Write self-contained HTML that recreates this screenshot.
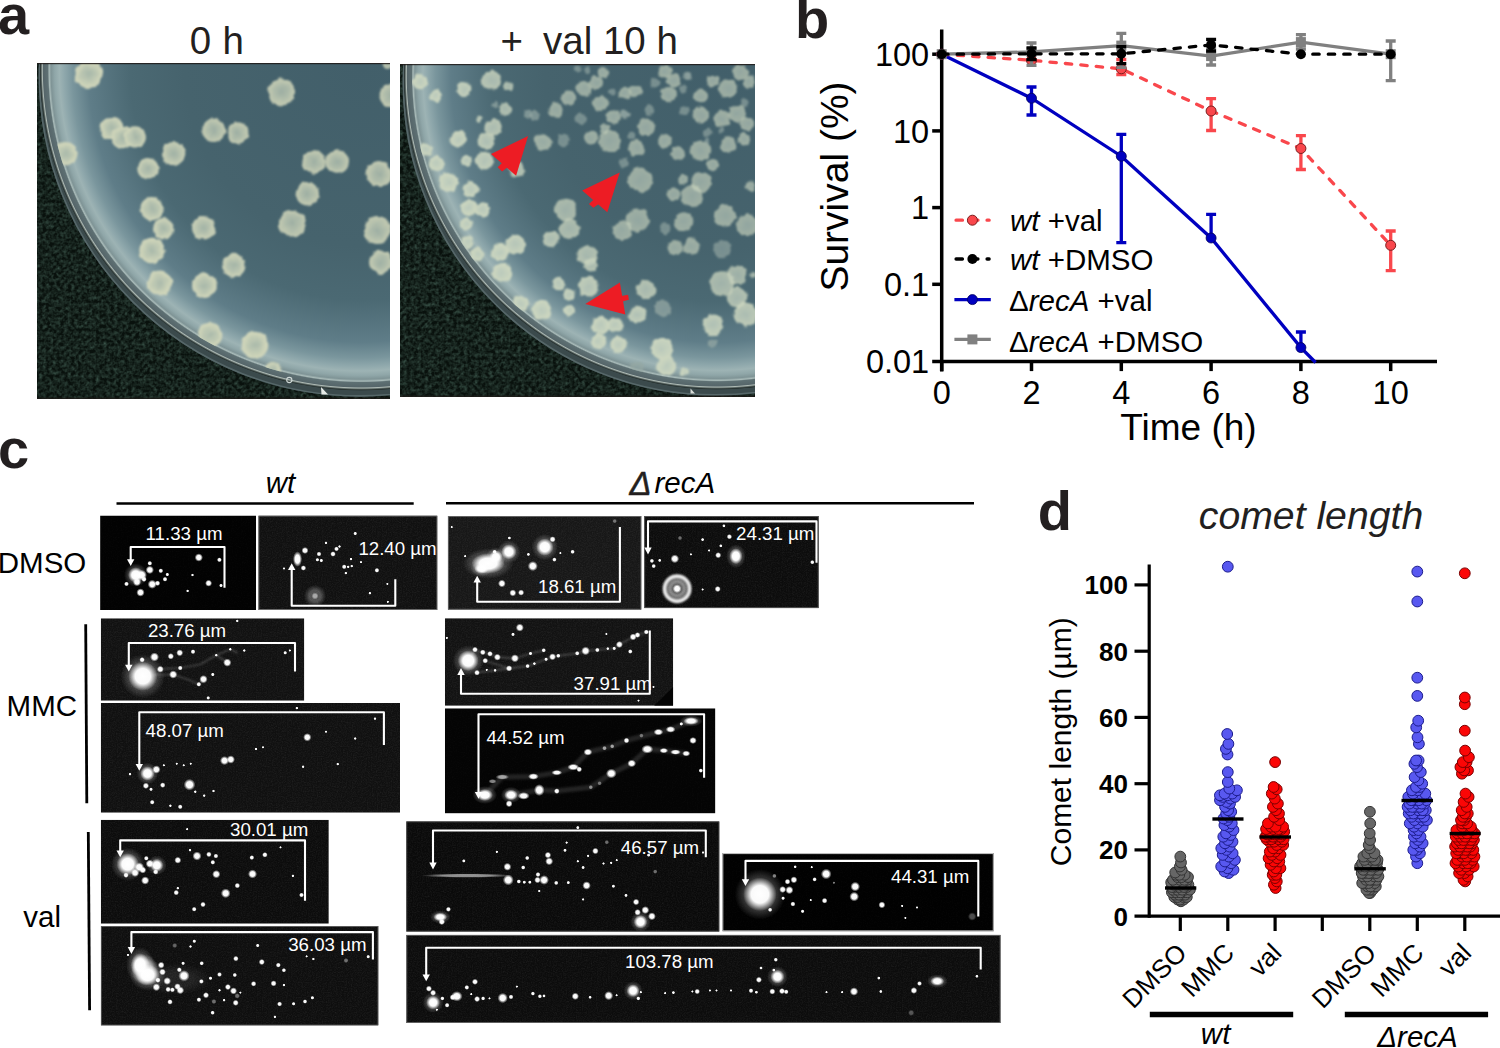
<!DOCTYPE html>
<html lang="en"><head><meta charset="utf-8"><title>Figure</title>
<style>html,body{margin:0;padding:0;background:#fff;overflow:hidden}svg{display:block}</style></head><body>
<svg width="1500" height="1048" viewBox="0 0 1500 1048">
<rect width="1500" height="1048" fill="#fff"/>
<!-- panel_a -->
<defs>
<filter id="colblur1" x="-2%" y="-2%" width="104%" height="104%"><feTurbulence type="fractalNoise" baseFrequency="0.13" numOctaves="2" seed="7" result="t"/><feDisplacementMap in="SourceGraphic" in2="t" scale="4.5" xChannelSelector="R" yChannelSelector="G" result="d"/><feGaussianBlur in="d" stdDeviation="0.8"/></filter>
<filter id="colblur2" x="-2%" y="-2%" width="104%" height="104%"><feTurbulence type="fractalNoise" baseFrequency="0.15" numOctaves="2" seed="5" result="t"/><feDisplacementMap in="SourceGraphic" in2="t" scale="5" xChannelSelector="R" yChannelSelector="G" result="d"/><feGaussianBlur in="d" stdDeviation="1.15"/></filter>
<filter id="grainA" x="0" y="0" width="100%" height="100%"><feTurbulence type="fractalNoise" baseFrequency="0.28" numOctaves="2" seed="11" result="n"/><feColorMatrix in="n" type="matrix" values="0 0 0 0 0.08  0 0 0 0 0.17  0 0 0 0 0.13  0.7 0.7 0 0 -0.52"/></filter>
<radialGradient id="colG"><stop offset="0" stop-color="#a9b9aa"/><stop offset="0.5" stop-color="#bcc7b2"/><stop offset="0.8" stop-color="#ccd3b8"/><stop offset="1" stop-color="#d2d6bb"/></radialGradient>
<radialGradient id="colG2"><stop offset="0" stop-color="#bac9bb"/><stop offset="0.6" stop-color="#c6d2be"/><stop offset="1" stop-color="#cfd8c0"/></radialGradient>
<radialGradient id="colD"><stop offset="0" stop-color="#8fa4a2"/><stop offset="1" stop-color="#98aaa4"/></radialGradient>
<radialGradient id="plateG1" gradientUnits="userSpaceOnUse" cx="361.1" cy="69.2" r="321"><stop offset="0" stop-color="#425f6a"/><stop offset="0.55" stop-color="#46636d"/><stop offset="0.72" stop-color="#4b6973"/><stop offset="0.85" stop-color="#5f7d88"/><stop offset="0.9" stop-color="#7a969d"/><stop offset="0.925" stop-color="#8fa8ac"/><stop offset="0.94" stop-color="#9db3b4"/><stop offset="0.955" stop-color="#8fa6a8"/><stop offset="0.966" stop-color="#7f9496"/><stop offset="0.972" stop-color="#a9bbb9"/><stop offset="0.976" stop-color="#5e7073"/><stop offset="0.99" stop-color="#56666a"/><stop offset="0.993" stop-color="#aebab4"/><stop offset="0.997" stop-color="#4a5654"/><stop offset="1" stop-color="#1b2421"/></radialGradient>
<radialGradient id="plateG2" gradientUnits="userSpaceOnUse" cx="717.1" cy="76.2" r="313"><stop offset="0" stop-color="#425f6a"/><stop offset="0.55" stop-color="#46636d"/><stop offset="0.72" stop-color="#4b6973"/><stop offset="0.85" stop-color="#5f7d88"/><stop offset="0.9" stop-color="#7a969d"/><stop offset="0.925" stop-color="#8fa8ac"/><stop offset="0.94" stop-color="#9db3b4"/><stop offset="0.955" stop-color="#8fa6a8"/><stop offset="0.966" stop-color="#7f9496"/><stop offset="0.972" stop-color="#a9bbb9"/><stop offset="0.976" stop-color="#5e7073"/><stop offset="0.99" stop-color="#56666a"/><stop offset="0.993" stop-color="#aebab4"/><stop offset="0.997" stop-color="#4a5654"/><stop offset="1" stop-color="#1b2421"/></radialGradient>
</defs>
<clipPath id="clipA1"><rect x="37" y="63" width="353" height="336"/></clipPath>
<g clip-path="url(#clipA1)">
<rect x="37" y="63" width="353" height="336" fill="#09110d"/>
<rect x="37" y="63" width="353" height="336" filter="url(#grainA)"/>
<circle cx="359.6" cy="75.7" r="321" fill="#3b4a4c"/>
<circle cx="359.6" cy="75.7" r="320.2" fill="none" stroke="#566769" stroke-width="1.6"/>
<circle cx="361.1" cy="69.2" r="321" fill="url(#plateG1)"/>
<clipPath id="agar1"><circle cx="361.1" cy="69.2" r="313.0"/></clipPath>
<g clip-path="url(#agar1)"><g filter="url(#colblur1)">
<circle cx="88.5" cy="74.1" r="14" fill="url(#colG)" fill-opacity="0.99"/>
<circle cx="281.6" cy="91.9" r="13.4" fill="url(#colG)" fill-opacity="0.88"/>
<circle cx="391.4" cy="95.2" r="12" fill="url(#colG)" fill-opacity="0.88"/>
<circle cx="111.9" cy="128.6" r="11.7" fill="url(#colG)" fill-opacity="0.97"/>
<circle cx="122.9" cy="137.6" r="11.7" fill="url(#colG)" fill-opacity="0.96"/>
<circle cx="135.3" cy="136.9" r="10.7" fill="url(#colG)" fill-opacity="0.94"/>
<circle cx="213.8" cy="130.3" r="11.7" fill="url(#colG)" fill-opacity="0.88"/>
<circle cx="237.8" cy="132.9" r="10.7" fill="url(#colG)" fill-opacity="0.88"/>
<circle cx="65.8" cy="153.6" r="11.7" fill="url(#colG)" fill-opacity="1.00"/>
<circle cx="173.7" cy="153.6" r="11.7" fill="url(#colG)" fill-opacity="0.91"/>
<circle cx="148" cy="168.7" r="10.7" fill="url(#colG)" fill-opacity="0.94"/>
<circle cx="314" cy="162" r="11.7" fill="url(#colG)" fill-opacity="0.88"/>
<circle cx="337.3" cy="162" r="11.7" fill="url(#colG)" fill-opacity="0.88"/>
<circle cx="379.1" cy="173.7" r="12.7" fill="url(#colG)" fill-opacity="0.88"/>
<circle cx="307.3" cy="193.7" r="11.7" fill="url(#colG)" fill-opacity="0.88"/>
<circle cx="152" cy="208.8" r="11.7" fill="url(#colG)" fill-opacity="0.96"/>
<circle cx="163.7" cy="228.8" r="10.7" fill="url(#colG)" fill-opacity="0.96"/>
<circle cx="203.7" cy="227.8" r="11.7" fill="url(#colG)" fill-opacity="0.93"/>
<circle cx="292.3" cy="223.1" r="13.4" fill="url(#colG)" fill-opacity="0.88"/>
<circle cx="377.4" cy="230.5" r="13.4" fill="url(#colG)" fill-opacity="0.88"/>
<circle cx="152" cy="250.5" r="12.7" fill="url(#colG)" fill-opacity="0.99"/>
<circle cx="233.8" cy="265.5" r="11.7" fill="url(#colG)" fill-opacity="0.94"/>
<circle cx="380.8" cy="262.2" r="11.7" fill="url(#colG)" fill-opacity="0.89"/>
<circle cx="159.7" cy="282.9" r="12.4" fill="url(#colG)" fill-opacity="1.00"/>
<circle cx="204.4" cy="285.6" r="12.4" fill="url(#colG)" fill-opacity="0.98"/>
<circle cx="210" cy="335" r="12.3" fill="url(#colG)" fill-opacity="1.00"/>
<circle cx="255" cy="345" r="13.3" fill="url(#colG)" fill-opacity="1.00"/>
<circle cx="272.7" cy="371" r="9" fill="url(#colG)" fill-opacity="1.00"/>
<circle cx="388" cy="61" r="7" fill="url(#colG)" fill-opacity="0.88"/>
</g></g>
<rect x="37" y="63" width="353" height="1.2" fill="#1e1a17" opacity="0.85"/>
<rect x="37" y="397.5" width="353" height="1.5" fill="#1e1a17" opacity="0.7"/>
</g>
<clipPath id="clipA2"><rect x="400" y="64" width="355" height="333"/></clipPath>
<g clip-path="url(#clipA2)">
<rect x="400" y="64" width="355" height="333" fill="#09110d"/>
<rect x="400" y="64" width="355" height="333" filter="url(#grainA)"/>
<circle cx="715.6" cy="82.7" r="313" fill="#3b4a4c"/>
<circle cx="715.6" cy="82.7" r="312.2" fill="none" stroke="#566769" stroke-width="1.6"/>
<circle cx="717.1" cy="76.2" r="313" fill="url(#plateG2)"/>
<clipPath id="agar2"><circle cx="717.1" cy="76.2" r="305.2"/></clipPath>
<g clip-path="url(#agar2)"><g filter="url(#colblur2)">
<circle cx="420.2" cy="81.6" r="7.6" fill="url(#colG2)" fill-opacity="1.00"/>
<circle cx="435.7" cy="95.7" r="6.2" fill="url(#colG2)" fill-opacity="1.00"/>
<circle cx="463.9" cy="89.5" r="7.6" fill="url(#colG2)" fill-opacity="0.92"/>
<circle cx="491.4" cy="80.2" r="9.6" fill="url(#colG2)" fill-opacity="0.83"/>
<circle cx="508.5" cy="86.1" r="4.8" fill="url(#colG2)" fill-opacity="0.78"/>
<circle cx="505.1" cy="109.1" r="6.2" fill="url(#colG2)" fill-opacity="0.79"/>
<circle cx="493.1" cy="127.3" r="8.6" fill="url(#colG2)" fill-opacity="0.84"/>
<circle cx="486.2" cy="141" r="8.6" fill="url(#colG2)" fill-opacity="0.87"/>
<circle cx="458.7" cy="139.3" r="8.2" fill="url(#colG2)" fill-opacity="0.96"/>
<circle cx="484.5" cy="160.6" r="8.9" fill="url(#colG2)" fill-opacity="0.90"/>
<circle cx="466.3" cy="160.6" r="5.5" fill="url(#colG2)" fill-opacity="0.95"/>
<circle cx="426.1" cy="149.6" r="6.2" fill="url(#colG2)" fill-opacity="1.00"/>
<circle cx="436.4" cy="163.4" r="7.6" fill="url(#colG2)" fill-opacity="1.00"/>
<circle cx="448.4" cy="182.3" r="9.6" fill="url(#colG2)" fill-opacity="1.00"/>
<circle cx="470.7" cy="189.2" r="8.2" fill="url(#colG2)" fill-opacity="0.97"/>
<circle cx="469" cy="208" r="8.2" fill="url(#colG2)" fill-opacity="1.00"/>
<circle cx="482.8" cy="209.8" r="7.6" fill="url(#colG2)" fill-opacity="0.97"/>
<circle cx="466.3" cy="223.5" r="6.2" fill="url(#colG2)" fill-opacity="1.00"/>
<circle cx="467.3" cy="242.4" r="6.2" fill="url(#colG2)" fill-opacity="1.00"/>
<circle cx="477.6" cy="254.4" r="6.9" fill="url(#colG2)" fill-opacity="1.00"/>
<circle cx="499.9" cy="252.7" r="8.9" fill="url(#colG2)" fill-opacity="1.00"/>
<circle cx="515.4" cy="244.1" r="10.3" fill="url(#colG2)" fill-opacity="0.94"/>
<circle cx="501.7" cy="272.6" r="9.6" fill="url(#colG2)" fill-opacity="1.00"/>
<circle cx="520.6" cy="303.2" r="8.2" fill="url(#colG2)" fill-opacity="1.00"/>
<circle cx="541.9" cy="310.4" r="9.6" fill="url(#colG2)" fill-opacity="1.00"/>
<circle cx="542.9" cy="142.1" r="8.9" fill="url(#colG2)" fill-opacity="0.69"/>
<circle cx="563.5" cy="140" r="6.2" fill="url(#colD)" fill-opacity="0.66"/>
<circle cx="534.3" cy="115.3" r="5.5" fill="url(#colD)" fill-opacity="0.70"/>
<circle cx="556" cy="110.1" r="7.6" fill="url(#colG2)" fill-opacity="0.66"/>
<circle cx="568.7" cy="98.1" r="7.6" fill="url(#colG2)" fill-opacity="0.66"/>
<circle cx="584.1" cy="88.5" r="7.6" fill="url(#colG2)" fill-opacity="0.66"/>
<circle cx="596.2" cy="82.6" r="6.9" fill="url(#colG2)" fill-opacity="0.66"/>
<circle cx="603" cy="72.3" r="5.2" fill="url(#colG2)" fill-opacity="0.66"/>
<circle cx="600.3" cy="103.3" r="7.6" fill="url(#colG2)" fill-opacity="0.66"/>
<circle cx="580.7" cy="118.7" r="6.2" fill="url(#colD)" fill-opacity="0.66"/>
<circle cx="591" cy="137.6" r="6.9" fill="url(#colG2)" fill-opacity="0.66"/>
<circle cx="609.9" cy="141" r="11" fill="url(#colG2)" fill-opacity="0.66"/>
<circle cx="613.3" cy="117" r="7.6" fill="url(#colG2)" fill-opacity="0.66"/>
<circle cx="604.7" cy="129" r="4.8" fill="url(#colG2)" fill-opacity="0.66"/>
<circle cx="624.7" cy="114.6" r="4.1" fill="url(#colD)" fill-opacity="0.66"/>
<circle cx="635.7" cy="91.2" r="6.2" fill="url(#colG2)" fill-opacity="0.66"/>
<circle cx="624.7" cy="92.9" r="6.2" fill="url(#colG2)" fill-opacity="0.66"/>
<circle cx="646" cy="127.3" r="8.9" fill="url(#colG2)" fill-opacity="0.66"/>
<circle cx="636.7" cy="147.9" r="8.2" fill="url(#colG2)" fill-opacity="0.66"/>
<circle cx="623.6" cy="162.7" r="4.8" fill="url(#colD)" fill-opacity="0.66"/>
<circle cx="640.1" cy="179.9" r="12.4" fill="url(#colG2)" fill-opacity="0.66"/>
<circle cx="664.9" cy="141" r="6.9" fill="url(#colG2)" fill-opacity="0.66"/>
<circle cx="677.9" cy="153.1" r="6.9" fill="url(#colG2)" fill-opacity="0.66"/>
<circle cx="700.9" cy="150.7" r="10.3" fill="url(#colG2)" fill-opacity="0.66"/>
<circle cx="713" cy="165.1" r="6.2" fill="url(#colG2)" fill-opacity="0.66"/>
<circle cx="700.9" cy="182.3" r="10.3" fill="url(#colG2)" fill-opacity="0.66"/>
<circle cx="692.4" cy="196" r="11" fill="url(#colG2)" fill-opacity="0.66"/>
<circle cx="673.5" cy="194.3" r="6.9" fill="url(#colG2)" fill-opacity="0.66"/>
<circle cx="683.1" cy="179.9" r="4.8" fill="url(#colG2)" fill-opacity="0.66"/>
<circle cx="637.4" cy="220.1" r="11.7" fill="url(#colG2)" fill-opacity="0.66"/>
<circle cx="621.9" cy="230.4" r="9.6" fill="url(#colG2)" fill-opacity="0.67"/>
<circle cx="565.9" cy="209.8" r="11" fill="url(#colG2)" fill-opacity="0.74"/>
<circle cx="569.4" cy="228.7" r="10.3" fill="url(#colG2)" fill-opacity="0.77"/>
<circle cx="550.8" cy="239" r="8.2" fill="url(#colG2)" fill-opacity="0.84"/>
<circle cx="587.6" cy="255.5" r="10.3" fill="url(#colG2)" fill-opacity="0.80"/>
<circle cx="591" cy="264.7" r="6.9" fill="url(#colG2)" fill-opacity="0.82"/>
<circle cx="588.6" cy="287.1" r="10.3" fill="url(#colG2)" fill-opacity="0.89"/>
<circle cx="559" cy="283.6" r="6.9" fill="url(#colG2)" fill-opacity="0.93"/>
<circle cx="569.4" cy="294.6" r="6.2" fill="url(#colG2)" fill-opacity="0.94"/>
<circle cx="569.4" cy="310.4" r="5.5" fill="url(#colG2)" fill-opacity="0.98"/>
<circle cx="646" cy="289.5" r="9.6" fill="url(#colG2)" fill-opacity="0.81"/>
<circle cx="637.4" cy="314.6" r="8.9" fill="url(#colG2)" fill-opacity="0.90"/>
<circle cx="663.1" cy="308.7" r="8.2" fill="url(#colD)" fill-opacity="0.75"/>
<circle cx="683.8" cy="221.8" r="9.6" fill="url(#colG2)" fill-opacity="0.66"/>
<circle cx="664.9" cy="228.7" r="5.5" fill="url(#colD)" fill-opacity="0.66"/>
<circle cx="675.2" cy="247.6" r="7.6" fill="url(#colG2)" fill-opacity="0.66"/>
<circle cx="691.3" cy="246.5" r="8.2" fill="url(#colG2)" fill-opacity="0.66"/>
<circle cx="725" cy="215.6" r="11" fill="url(#colG2)" fill-opacity="0.66"/>
<circle cx="747.3" cy="225.2" r="11" fill="url(#colG2)" fill-opacity="0.66"/>
<circle cx="722.2" cy="249.3" r="8.9" fill="url(#colD)" fill-opacity="0.66"/>
<circle cx="713" cy="324.9" r="10.3" fill="url(#colG2)" fill-opacity="0.89"/>
<circle cx="713" cy="343.8" r="4.1" fill="url(#colD)" fill-opacity="0.75"/>
<circle cx="721.6" cy="283.6" r="12.4" fill="url(#colG2)" fill-opacity="0.76"/>
<circle cx="737" cy="275" r="9.6" fill="url(#colG2)" fill-opacity="0.73"/>
<circle cx="737" cy="297.4" r="10.3" fill="url(#colG2)" fill-opacity="0.80"/>
<circle cx="745.6" cy="314.6" r="12" fill="url(#colG2)" fill-opacity="0.86"/>
<circle cx="600.3" cy="324.9" r="8.9" fill="url(#colG2)" fill-opacity="0.98"/>
<circle cx="615" cy="324.9" r="7.6" fill="url(#colG2)" fill-opacity="0.96"/>
<circle cx="598.6" cy="341.4" r="7.6" fill="url(#colG2)" fill-opacity="1.00"/>
<circle cx="618.5" cy="344.8" r="8.2" fill="url(#colG2)" fill-opacity="1.00"/>
<circle cx="661.4" cy="348.2" r="11" fill="url(#colG2)" fill-opacity="0.99"/>
<circle cx="666.6" cy="366.1" r="9.6" fill="url(#colG2)" fill-opacity="1.00"/>
<circle cx="684.8" cy="371.3" r="4.1" fill="url(#colG2)" fill-opacity="1.00"/>
<circle cx="637.4" cy="367.8" r="6.9" fill="url(#colD)" fill-opacity="0.75"/>
<circle cx="664.9" cy="71.3" r="6.9" fill="url(#colG2)" fill-opacity="0.66"/>
<circle cx="673.5" cy="80.9" r="6.9" fill="url(#colG2)" fill-opacity="0.66"/>
<circle cx="668.3" cy="94.7" r="7.6" fill="url(#colG2)" fill-opacity="0.66"/>
<circle cx="654.6" cy="82.6" r="4.8" fill="url(#colD)" fill-opacity="0.66"/>
<circle cx="649.4" cy="110.1" r="4.8" fill="url(#colD)" fill-opacity="0.66"/>
<circle cx="683.8" cy="111.2" r="4.8" fill="url(#colD)" fill-opacity="0.66"/>
<circle cx="700.9" cy="96.4" r="6.9" fill="url(#colG2)" fill-opacity="0.66"/>
<circle cx="700.9" cy="114.6" r="8.2" fill="url(#colG2)" fill-opacity="0.66"/>
<circle cx="713" cy="80.9" r="6.2" fill="url(#colG2)" fill-opacity="0.66"/>
<circle cx="728.4" cy="88.5" r="9.6" fill="url(#colG2)" fill-opacity="0.66"/>
<circle cx="740.5" cy="72.3" r="7.6" fill="url(#colG2)" fill-opacity="0.66"/>
<circle cx="749" cy="82.6" r="6.2" fill="url(#colG2)" fill-opacity="0.66"/>
<circle cx="721.6" cy="118.7" r="8.2" fill="url(#colG2)" fill-opacity="0.66"/>
<circle cx="737" cy="113.6" r="8.6" fill="url(#colG2)" fill-opacity="0.66"/>
<circle cx="747.3" cy="123.9" r="6.9" fill="url(#colG2)" fill-opacity="0.66"/>
<circle cx="728.4" cy="144.5" r="8.2" fill="url(#colG2)" fill-opacity="0.66"/>
<circle cx="743.9" cy="139.3" r="6.2" fill="url(#colG2)" fill-opacity="0.66"/>
<circle cx="707.8" cy="132.5" r="4.8" fill="url(#colD)" fill-opacity="0.66"/>
<circle cx="750.8" cy="185.7" r="5.2" fill="url(#colG2)" fill-opacity="0.66"/>
<circle cx="687.2" cy="75.8" r="4.1" fill="url(#colD)" fill-opacity="0.66"/>
<circle cx="587.6" cy="70.6" r="3.4" fill="url(#colD)" fill-opacity="0.66"/>
<circle cx="577.3" cy="68.9" r="3.4" fill="url(#colD)" fill-opacity="0.66"/>
<circle cx="752.5" cy="275" r="2.7" fill="url(#colG2)" fill-opacity="0.74"/>
<circle cx="516.6" cy="169.5" r="8" fill="url(#colG2)" fill-opacity="0.81"/>
<circle cx="479.4" cy="118.7" r="3" fill="url(#colG2)" fill-opacity="0.88"/>
<circle cx="528" cy="113.7" r="4" fill="url(#colD)" fill-opacity="0.72"/>
<circle cx="495" cy="105" r="3" fill="url(#colD)" fill-opacity="0.75"/>
<circle cx="612.2" cy="92.3" r="3.2" fill="url(#colD)" fill-opacity="0.66"/>
<circle cx="625.1" cy="115" r="4.1" fill="url(#colD)" fill-opacity="0.66"/>
<circle cx="631.6" cy="135.3" r="3.6" fill="url(#colD)" fill-opacity="0.66"/>
<circle cx="720.8" cy="130.4" r="3.2" fill="url(#colD)" fill-opacity="0.66"/>
<circle cx="707.1" cy="141" r="2.9" fill="url(#colD)" fill-opacity="0.66"/>
<circle cx="751.7" cy="77.7" r="2.4" fill="url(#colD)" fill-opacity="0.66"/>
<circle cx="744.4" cy="102.9" r="4.2" fill="url(#colD)" fill-opacity="0.66"/>
<circle cx="683.5" cy="89.1" r="3.9" fill="url(#colD)" fill-opacity="0.66"/>
<circle cx="688.4" cy="76.1" r="3.6" fill="url(#colD)" fill-opacity="0.66"/>
</g></g>
<rect x="400" y="64" width="355" height="1.2" fill="#1e1a17" opacity="0.85"/>
<rect x="400" y="395.5" width="355" height="1.5" fill="#1e1a17" opacity="0.7"/>
</g>
<circle cx="289.3" cy="380" r="2.6" fill="none" stroke="#cfd8d6" stroke-width="1.1"/><polygon points="321,387 328,394.5 321.5,394.5" fill="#e8ece8"/><polygon points="690.5,388.5 695,393.5 690.5,393.5" fill="#d8dcd8"/>
<polygon points="528.1,136 491,154.1 516.1,175.7" fill="#ed1c24"/><polygon points="505.1,160.1 510.1,165.1 502.1,171.5 497.7,167.3" fill="#ed1c24"/>
<polygon points="619.7,172.5 582.2,190.6 607.3,212.2" fill="#ed1c24"/><polygon points="596.3,197.2 601.3,202.2 593.3,207.8 588.9,204" fill="#ed1c24"/>
<polygon points="585.3,304 619.9,282.4 625.3,314.4" fill="#ed1c24"/><polygon points="621.3,296 628.1,294.8 628.9,299.8 622.3,301.4" fill="#ed1c24"/>
<text x="-2" y="34.3" font-family='"Liberation Sans", sans-serif' font-weight="bold" font-size="56" fill="#231f20">a</text>
<text x="189.7" y="53.6" font-family='"Liberation Sans", sans-serif' font-size="38.5" fill="#231f20">0</text>
<text x="222.5" y="53.6" font-family='"Liberation Sans", sans-serif' font-size="38.5" fill="#231f20">h</text>
<text x="500.6" y="53.6" font-family='"Liberation Sans", sans-serif' font-size="38.5" fill="#231f20">+</text>
<text x="543" y="53.6" font-family='"Liberation Sans", sans-serif' font-size="38.5" fill="#231f20">val 10 h</text>
<!-- panel_b -->
<g stroke="#000" stroke-width="3.5" fill="none">
<line x1="941.7" y1="29.5" x2="941.7" y2="371.40000000000003"/>
<line x1="932.2" y1="361.6" x2="1437" y2="361.6"/>
<line x1="932.2" y1="54.2" x2="941.7" y2="54.2"/>
<line x1="932.2" y1="130.9" x2="941.7" y2="130.9"/>
<line x1="932.2" y1="207.6" x2="941.7" y2="207.6"/>
<line x1="932.2" y1="284.3" x2="941.7" y2="284.3"/>
<line x1="941.7" y1="361.6" x2="941.7" y2="371.1"/>
<line x1="1031.5" y1="361.6" x2="1031.5" y2="371.1"/>
<line x1="1121.3" y1="361.6" x2="1121.3" y2="371.1"/>
<line x1="1211.1" y1="361.6" x2="1211.1" y2="371.1"/>
<line x1="1300.9" y1="361.6" x2="1300.9" y2="371.1"/>
<line x1="1390.7" y1="361.6" x2="1390.7" y2="371.1"/>
</g>
<g font-family='"Liberation Sans", sans-serif' font-size="32.5" fill="#000">
<text x="929.2" y="65.8" text-anchor="end">100</text>
<text x="929.2" y="142.5" text-anchor="end">10</text>
<text x="929.2" y="219.2" text-anchor="end">1</text>
<text x="929.2" y="295.9" text-anchor="end">0.1</text>
<text x="929.2" y="373.2" text-anchor="end">0.01</text>
<text x="941.7" y="404.3" text-anchor="middle">0</text>
<text x="1031.5" y="404.3" text-anchor="middle">2</text>
<text x="1121.3" y="404.3" text-anchor="middle">4</text>
<text x="1211.1" y="404.3" text-anchor="middle">6</text>
<text x="1300.9" y="404.3" text-anchor="middle">8</text>
<text x="1390.7" y="404.3" text-anchor="middle">10</text>
</g>
<text x="1188.5" y="439.6" text-anchor="middle" font-family='"Liberation Sans", sans-serif' font-size="37" fill="#000">Time (h)</text>
<text transform="translate(848,186.5) rotate(-90)" text-anchor="middle" font-family='"Liberation Sans", sans-serif' font-size="39" fill="#000">Survival (%)</text>
<polyline points="941.7,54.2 1031.5,98.2 1121.3,156.2 1211.1,238 1300.9,347.6 1315.6,362.5" stroke="#0000c0" stroke-width="3.3" fill="none"/>
<path d="M1031.5 87V115M1026.5 87H1036.5M1026.5 115H1036.5" stroke="#0000c0" stroke-width="3.3" fill="none"/>
<path d="M1121.3 134.4V242.6M1116.3 134.4H1126.3M1116.3 242.6H1126.3" stroke="#0000c0" stroke-width="3.3" fill="none"/>
<path d="M1211.1 214.3V238M1206.1 214.3H1216.1" stroke="#0000c0" stroke-width="3.3" fill="none"/>
<path d="M1300.9 332V347.6M1295.9 332H1305.9" stroke="#0000c0" stroke-width="3.3" fill="none"/>
<circle cx="941.7" cy="54.2" r="5" fill="#0000c0" stroke="#00005a" stroke-width="0.8"/>
<circle cx="1031.5" cy="98.2" r="5" fill="#0000c0" stroke="#00005a" stroke-width="0.8"/>
<circle cx="1121.3" cy="156.2" r="5" fill="#0000c0" stroke="#00005a" stroke-width="0.8"/>
<circle cx="1211.1" cy="238" r="5" fill="#0000c0" stroke="#00005a" stroke-width="0.8"/>
<circle cx="1300.9" cy="347.6" r="5" fill="#0000c0" stroke="#00005a" stroke-width="0.8"/>
<polyline points="941.7,54.2 1031.5,60.3 1121.3,68.8 1211.1,111 1300.9,148.5 1390.7,245.3" stroke="#f9474c" stroke-width="3.3" stroke-dasharray="6.4 9.1" stroke-linecap="round" fill="none"/>
<path d="M1121.3 59.5V74.5M1116.3 59.5H1126.3M1116.3 74.5H1126.3" stroke="#f9474c" stroke-width="3.3" fill="none"/>
<path d="M1211.1 98.7V130.5M1206.1 98.7H1216.1M1206.1 130.5H1216.1" stroke="#f9474c" stroke-width="3.3" fill="none"/>
<path d="M1300.9 135.6V169.5M1295.9 135.6H1305.9M1295.9 169.5H1305.9" stroke="#f9474c" stroke-width="3.3" fill="none"/>
<path d="M1390.7 231V270.6M1385.7 231H1395.7M1385.7 270.6H1395.7" stroke="#f9474c" stroke-width="3.3" fill="none"/>
<circle cx="941.7" cy="54.2" r="5" fill="#f9474c" stroke="#7a1c1c" stroke-width="1"/>
<circle cx="1031.5" cy="60.3" r="5" fill="#f9474c" stroke="#7a1c1c" stroke-width="1"/>
<circle cx="1121.3" cy="68.8" r="5" fill="#f9474c" stroke="#7a1c1c" stroke-width="1"/>
<circle cx="1211.1" cy="111" r="5" fill="#f9474c" stroke="#7a1c1c" stroke-width="1"/>
<circle cx="1300.9" cy="148.5" r="5" fill="#f9474c" stroke="#7a1c1c" stroke-width="1"/>
<circle cx="1390.7" cy="245.3" r="5" fill="#f9474c" stroke="#7a1c1c" stroke-width="1"/>
<polyline points="941.7,54.2 1031.5,51.9 1121.3,45.6 1211.1,56.1 1300.9,42.1 1390.7,54.2" stroke="#808080" stroke-width="3.3" fill="none"/>
<path d="M1031.5 43V65.4M1026.5 43H1036.5M1026.5 65.4H1036.5" stroke="#808080" stroke-width="3.3" fill="none"/>
<path d="M1121.3 33.3V67.3M1116.3 33.3H1126.3M1116.3 67.3H1126.3" stroke="#808080" stroke-width="3.3" fill="none"/>
<path d="M1211.1 48V65M1206.1 48H1216.1M1206.1 65H1216.1" stroke="#808080" stroke-width="3.3" fill="none"/>
<path d="M1300.9 34.6V49M1295.9 34.6H1305.9M1295.9 49H1305.9" stroke="#808080" stroke-width="3.3" fill="none"/>
<path d="M1390.7 41V80.7M1385.7 41H1395.7M1385.7 80.7H1395.7" stroke="#808080" stroke-width="3.3" fill="none"/>
<rect x="936.7" y="49.2" width="10" height="10" fill="#808080"/>
<rect x="1026.5" y="46.9" width="10" height="10" fill="#808080"/>
<rect x="1116.3" y="40.6" width="10" height="10" fill="#808080"/>
<rect x="1206.1" y="51.1" width="10" height="10" fill="#808080"/>
<rect x="1295.9" y="37.1" width="10" height="10" fill="#808080"/>
<rect x="1385.7" y="49.2" width="10" height="10" fill="#808080"/>
<polyline points="941.7,54.2 1031.5,53.8 1121.3,53.8 1211.1,44.9 1300.9,54.2 1390.7,54.2" stroke="#000" stroke-width="3.3" stroke-dasharray="6.4 9.1" stroke-linecap="round" fill="none"/>
<path d="M1031.5 48V59.6M1026.5 48H1036.5M1026.5 59.6H1036.5" stroke="#000" stroke-width="3.3" fill="none"/>
<path d="M1121.3 46.7V63.7M1116.3 46.7H1126.3M1116.3 63.7H1126.3" stroke="#000" stroke-width="3.3" fill="none"/>
<path d="M1211.1 39.3V51M1206.1 39.3H1216.1M1206.1 51H1216.1" stroke="#000" stroke-width="3.3" fill="none"/>
<circle cx="941.7" cy="54.2" r="5" fill="#000"/>
<circle cx="1031.5" cy="53.8" r="5" fill="#000"/>
<circle cx="1121.3" cy="53.8" r="5" fill="#000"/>
<circle cx="1211.1" cy="44.9" r="5" fill="#000"/>
<circle cx="1300.9" cy="54.2" r="5" fill="#000"/>
<circle cx="1390.7" cy="54.2" r="5" fill="#000"/>
<line x1="956.05" y1="220.2" x2="989.15" y2="220.2" stroke="#f9474c" stroke-width="3.3" stroke-dasharray="6.4 9.1" stroke-linecap="round"/>
<circle cx="972.4" cy="220.2" r="5" fill="#f9474c" stroke="#7a1c1c" stroke-width="1"/>
<line x1="956.05" y1="259" x2="989.15" y2="259" stroke="#000" stroke-width="3.3" stroke-dasharray="6.4 9.1" stroke-linecap="round"/>
<circle cx="972.4" cy="259" r="5" fill="#000"/>
<line x1="954.4" y1="299.6" x2="990.8" y2="299.6" stroke="#0000c0" stroke-width="3.3"/>
<circle cx="972.4" cy="299.6" r="5" fill="#0000c0" stroke="#00005a" stroke-width="0.8"/>
<line x1="954.4" y1="339.4" x2="990.8" y2="339.4" stroke="#808080" stroke-width="3.3"/>
<rect x="967.4" y="334.4" width="10" height="10" fill="#808080"/>
<g font-family='"Liberation Sans", sans-serif' font-size="29.5" fill="#000">
<text x="1010" y="231"><tspan font-style="italic">wt</tspan> +val</text>
<text x="1010" y="269.6"><tspan font-style="italic">wt</tspan> +DMSO</text>
<text x="1009" y="310.7">&#916;<tspan font-style="italic">recA</tspan> +val</text>
<text x="1009" y="352.2">&#916;<tspan font-style="italic">recA</tspan> +DMSO</text>
</g>
<text x="795" y="38.3" font-family='"Liberation Sans", sans-serif' font-weight="bold" font-size="56" fill="#231f20">b</text>
<!-- panel_c -->
<defs>
<filter id="grain" x="0" y="0" width="100%" height="100%"><feTurbulence type="fractalNoise" baseFrequency="0.8" numOctaves="2" seed="3" result="n"/><feColorMatrix in="n" type="matrix" values="0 0 0 0 1  0 0 0 0 1  0 0 0 0 1  0.5 0.5 0 0 -0.38"/></filter>
<filter id="bl" x="-30%" y="-30%" width="160%" height="160%"><feGaussianBlur stdDeviation="0.8"/></filter>
<radialGradient id="glow"><stop offset="0" stop-color="#fff" stop-opacity="1"/><stop offset="0.52" stop-color="#fff" stop-opacity="0.97"/><stop offset="0.76" stop-color="#fff" stop-opacity="0.45"/><stop offset="1" stop-color="#fff" stop-opacity="0"/></radialGradient>
<radialGradient id="halo"><stop offset="0" stop-color="#fff" stop-opacity="0.5"/><stop offset="0.5" stop-color="#fff" stop-opacity="0.28"/><stop offset="1" stop-color="#fff" stop-opacity="0"/></radialGradient>
</defs>
<clipPath id="cc0"><rect x="100.1" y="515.5" width="155.9" height="94.5"/></clipPath>
<g clip-path="url(#cc0)">
<rect x="100.1" y="515.5" width="155.9" height="94.5" fill="#020202"/>
<rect x="100.1" y="515.5" width="155.9" height="94.5" filter="url(#grain)" opacity="0.06"/>
<ellipse cx="135.8" cy="575" rx="11.8" ry="11.8" fill="url(#halo)"/>
<ellipse cx="135.8" cy="575" rx="7.8" ry="7.8" fill="url(#glow)"/>
<ellipse cx="141.7" cy="575" rx="5.2" ry="5.2" fill="url(#glow)"/>
<ellipse cx="137" cy="582" rx="4.2" ry="4.2" fill="url(#glow)"/>
<ellipse cx="149.8" cy="569.9" rx="4.2" ry="4.2" fill="url(#glow)"/>
<ellipse cx="152.2" cy="584.3" rx="4.6" ry="4.6" fill="url(#glow)"/>
<ellipse cx="140.5" cy="592.5" rx="4.2" ry="4.2" fill="url(#glow)"/>
<ellipse cx="144" cy="579.2" rx="2.8" ry="2.8" fill="url(#glow)"/>
<ellipse cx="126.5" cy="583.9" rx="2.5" ry="2.5" fill="url(#glow)"/>
<ellipse cx="165" cy="579.2" rx="2.5" ry="2.5" fill="url(#glow)"/>
<ellipse cx="160.8" cy="570.8" rx="2.5" ry="2.5" fill="url(#glow)"/>
<ellipse cx="167.3" cy="574.5" rx="2" ry="2" fill="url(#glow)"/>
<ellipse cx="198.8" cy="557.5" rx="4.2" ry="4.2" fill="url(#glow)"/>
<ellipse cx="219.4" cy="559.8" rx="2.5" ry="2.5" fill="url(#glow)"/>
<ellipse cx="208.6" cy="583.2" rx="3.5" ry="3.5" fill="url(#glow)"/>
<ellipse cx="221" cy="585.5" rx="2" ry="2" fill="url(#glow)"/>
<ellipse cx="192.5" cy="575" rx="1.6" ry="1.6" fill="url(#glow)"/>
<ellipse cx="187.6" cy="590.9" rx="1.6" ry="1.6" fill="url(#glow)"/>
<ellipse cx="157.5" cy="583.2" rx="2.8" ry="2.8" fill="url(#glow)"/>
<ellipse cx="149.8" cy="563.3" rx="2.5" ry="2.5" fill="url(#glow)"/>
<path d="M130.7 560.3V547H224.5V587.8" fill="none" stroke="#fff" stroke-width="2.1" stroke-linejoin="round"/><polygon points="130.7,566.1 127,559.3 134.4,559.3" fill="#fff"/>
<text x="145.6" y="540" font-family='"Liberation Sans", sans-serif' font-size="18.7" fill="#fff">11.33 µm</text>
</g>
<clipPath id="cc1"><rect x="258.3" y="515.5" width="179.2" height="94.5"/></clipPath>
<g clip-path="url(#cc1)">
<rect x="258.3" y="515.5" width="179.2" height="94.5" fill="#101010"/>
<rect x="258.3" y="515.5" width="179.2" height="94.5" filter="url(#grain)" opacity="0.16"/>
<ellipse cx="297.5" cy="559.1" rx="4.6" ry="7.8" fill="url(#glow)"/>
<ellipse cx="305" cy="550.5" rx="3.5" ry="3.5" fill="url(#glow)"/>
<ellipse cx="303.4" cy="568" rx="2.8" ry="2.8" fill="url(#glow)"/>
<ellipse cx="333" cy="554" rx="2.8" ry="2.8" fill="url(#glow)"/>
<ellipse cx="336.5" cy="548.9" rx="2.5" ry="2.5" fill="url(#glow)"/>
<ellipse cx="319" cy="554" rx="2.5" ry="2.5" fill="url(#glow)"/>
<ellipse cx="317.4" cy="559.8" rx="2" ry="2" fill="url(#glow)"/>
<ellipse cx="321.3" cy="560.5" rx="2" ry="2" fill="url(#glow)"/>
<ellipse cx="326" cy="542.8" rx="1.6" ry="1.6" fill="url(#glow)"/>
<ellipse cx="339.5" cy="546.5" rx="1.6" ry="1.6" fill="url(#glow)"/>
<ellipse cx="355.2" cy="533.5" rx="2" ry="2" fill="url(#glow)"/>
<ellipse cx="344.2" cy="566.8" rx="2.5" ry="2.5" fill="url(#glow)"/>
<ellipse cx="348.2" cy="566.8" rx="1.6" ry="1.6" fill="url(#glow)"/>
<ellipse cx="351.7" cy="566.1" rx="1.6" ry="1.6" fill="url(#glow)"/>
<ellipse cx="345.8" cy="573.1" rx="1.6" ry="1.6" fill="url(#glow)"/>
<ellipse cx="351" cy="559.1" rx="1.6" ry="1.6" fill="url(#glow)"/>
<ellipse cx="376.9" cy="570.3" rx="2.5" ry="2.5" fill="url(#glow)"/>
<ellipse cx="361" cy="562.2" rx="1.4" ry="1.4" fill="url(#glow)"/>
<ellipse cx="369.9" cy="593.2" rx="1.6" ry="1.6" fill="url(#glow)"/>
<ellipse cx="387.4" cy="583.9" rx="1.4" ry="1.4" fill="url(#glow)"/>
<ellipse cx="387.8" cy="601.8" rx="1.4" ry="1.4" fill="url(#glow)"/>
<ellipse cx="284" cy="568.5" rx="1.4" ry="1.4" fill="url(#glow)"/>
<ellipse cx="315" cy="596" rx="11.1" ry="11.1" fill="url(#glow)" opacity="0.28"/>
<ellipse cx="315" cy="596" rx="3.5" ry="3.5" fill="url(#glow)" opacity="0.5"/>
<rect x="258.8" y="516" width="178.2" height="93.5" fill="none" stroke="#6a6a6a" stroke-width="1"/>
<path d="M291.7 569.1V605.8H395.3V579.2" fill="none" stroke="#fff" stroke-width="2.1" stroke-linejoin="round"/><polygon points="291.7,563.3 288,570.1 295.4,570.1" fill="#fff"/>
<text x="358.4" y="555.2" font-family='"Liberation Sans", sans-serif' font-size="18.7" fill="#fff">12.40 µm</text>
</g>
<clipPath id="cc2"><rect x="100.8" y="618.3" width="203.5" height="82.4"/></clipPath>
<g clip-path="url(#cc2)">
<rect x="100.8" y="618.3" width="203.5" height="82.4" fill="#111111"/>
<rect x="100.8" y="618.3" width="203.5" height="82.4" filter="url(#grain)" opacity="0.16"/>
<ellipse cx="142.8" cy="676.2" rx="22.1" ry="22.1" fill="url(#halo)"/>
<ellipse cx="142.8" cy="676.2" rx="14.7" ry="14.7" fill="url(#glow)"/>
<ellipse cx="154.5" cy="657" rx="4.6" ry="4.6" fill="url(#glow)"/>
<ellipse cx="142.1" cy="659.8" rx="2.8" ry="2.8" fill="url(#glow)"/>
<ellipse cx="170.8" cy="656.3" rx="3.2" ry="3.2" fill="url(#glow)"/>
<ellipse cx="179.7" cy="652.8" rx="3.5" ry="3.5" fill="url(#glow)"/>
<ellipse cx="193" cy="651.7" rx="2.5" ry="2.5" fill="url(#glow)"/>
<ellipse cx="173.2" cy="674.5" rx="4.2" ry="4.2" fill="url(#glow)"/>
<ellipse cx="160.3" cy="669.2" rx="3.5" ry="3.5" fill="url(#glow)"/>
<ellipse cx="203.5" cy="679.2" rx="4.2" ry="4.2" fill="url(#glow)"/>
<ellipse cx="227.3" cy="662.6" rx="4.2" ry="4.2" fill="url(#glow)"/>
<ellipse cx="212.8" cy="674.5" rx="2" ry="2" fill="url(#glow)"/>
<ellipse cx="198.8" cy="684.3" rx="2.5" ry="2.5" fill="url(#glow)"/>
<ellipse cx="180.2" cy="668" rx="2.5" ry="2.5" fill="url(#glow)"/>
<ellipse cx="285.2" cy="652.8" rx="2" ry="2" fill="url(#glow)"/>
<ellipse cx="289.8" cy="650.5" rx="1.4" ry="1.4" fill="url(#glow)"/>
<ellipse cx="244.3" cy="650.5" rx="1.6" ry="1.6" fill="url(#glow)"/>
<ellipse cx="230.3" cy="649.3" rx="1.6" ry="1.6" fill="url(#glow)"/>
<ellipse cx="216.3" cy="655.2" rx="1.6" ry="1.6" fill="url(#glow)"/>
<ellipse cx="208.2" cy="697.9" rx="2" ry="2" fill="url(#glow)"/>
<ellipse cx="237.3" cy="620.9" rx="1.6" ry="1.6" fill="url(#glow)"/>
<polyline points="153.3,675 173.2,674.5 188.3,679.7 198.8,684.3 203.5,679.2" fill="none" stroke="#fff" stroke-opacity="0.3" stroke-width="1.2" stroke-linejoin="round" stroke-linecap="round" filter="url(#bl)"/>
<polyline points="160.3,669.2 180.2,668 200,664.5 216.3,655.2 227.3,662.6" fill="none" stroke="#fff" stroke-opacity="0.3" stroke-width="1.2" stroke-linejoin="round" stroke-linecap="round" filter="url(#bl)"/>
<polyline points="216.3,655.2 230.3,649.3 237.3,652.8" fill="none" stroke="#fff" stroke-opacity="0.3" stroke-width="1.2" stroke-linejoin="round" stroke-linecap="round" filter="url(#bl)"/>
<path d="M128.8 665.7V643H295V671.5" fill="none" stroke="#fff" stroke-width="2.1" stroke-linejoin="round"/><polygon points="128.8,671.5 125.1,664.7 132.5,664.7" fill="#fff"/>
<text x="147.9" y="636.5" font-family='"Liberation Sans", sans-serif' font-size="18.7" fill="#fff">23.76 µm</text>
</g>
<clipPath id="cc3"><rect x="100.8" y="703" width="299.2" height="109.7"/></clipPath>
<g clip-path="url(#cc3)">
<rect x="100.8" y="703" width="299.2" height="109.7" fill="#101010"/>
<rect x="100.8" y="703" width="299.2" height="109.7" filter="url(#grain)" opacity="0.16"/>
<ellipse cx="147.5" cy="773.5" rx="10.8" ry="10.8" fill="url(#halo)"/>
<ellipse cx="147.5" cy="773.5" rx="7.2" ry="7.2" fill="url(#glow)"/>
<ellipse cx="156.4" cy="769.5" rx="4.2" ry="4.2" fill="url(#glow)"/>
<ellipse cx="145.9" cy="785.8" rx="3.2" ry="3.2" fill="url(#glow)"/>
<ellipse cx="151" cy="789.3" rx="2" ry="2" fill="url(#glow)"/>
<ellipse cx="162.7" cy="785.1" rx="2.8" ry="2.8" fill="url(#glow)"/>
<ellipse cx="189.5" cy="784.7" rx="5.9" ry="5.9" fill="url(#glow)"/>
<ellipse cx="224.5" cy="760.6" rx="4.6" ry="4.6" fill="url(#glow)"/>
<ellipse cx="230.8" cy="759.5" rx="4.2" ry="4.2" fill="url(#glow)"/>
<ellipse cx="307.3" cy="737.3" rx="4.2" ry="4.2" fill="url(#glow)"/>
<ellipse cx="152.2" cy="802.2" rx="2.5" ry="2.5" fill="url(#glow)"/>
<ellipse cx="170.4" cy="805.7" rx="1.6" ry="1.6" fill="url(#glow)"/>
<ellipse cx="180.2" cy="806.8" rx="2.5" ry="2.5" fill="url(#glow)"/>
<ellipse cx="204.2" cy="795.6" rx="1.6" ry="1.6" fill="url(#glow)"/>
<ellipse cx="213.5" cy="791" rx="1.6" ry="1.6" fill="url(#glow)"/>
<ellipse cx="195.3" cy="791.7" rx="1.6" ry="1.6" fill="url(#glow)"/>
<ellipse cx="355.2" cy="738.5" rx="1.6" ry="1.6" fill="url(#glow)"/>
<ellipse cx="337.7" cy="764.1" rx="1.6" ry="1.6" fill="url(#glow)"/>
<ellipse cx="303.1" cy="766.7" rx="1.6" ry="1.6" fill="url(#glow)"/>
<ellipse cx="326" cy="731.7" rx="1.4" ry="1.4" fill="url(#glow)"/>
<ellipse cx="375" cy="718.6" rx="1.6" ry="1.6" fill="url(#glow)"/>
<ellipse cx="296.8" cy="708.1" rx="1.6" ry="1.6" fill="url(#glow)"/>
<ellipse cx="256" cy="749" rx="1.6" ry="1.6" fill="url(#glow)"/>
<ellipse cx="263" cy="747.3" rx="1.4" ry="1.4" fill="url(#glow)"/>
<ellipse cx="130" cy="774.2" rx="1.6" ry="1.6" fill="url(#glow)"/>
<ellipse cx="163.8" cy="765.3" rx="1.4" ry="1.4" fill="url(#glow)"/>
<ellipse cx="176.7" cy="763.7" rx="1.4" ry="1.4" fill="url(#glow)"/>
<ellipse cx="183.7" cy="765.3" rx="1.4" ry="1.4" fill="url(#glow)"/>
<ellipse cx="190.7" cy="763.7" rx="1.4" ry="1.4" fill="url(#glow)"/>
<path d="M139.3 764.9V712.3H383.9V745" fill="none" stroke="#fff" stroke-width="2.1" stroke-linejoin="round"/><polygon points="139.3,770.7 135.6,763.9 143,763.9" fill="#fff"/>
<text x="145.6" y="736.8" font-family='"Liberation Sans", sans-serif' font-size="18.7" fill="#fff">48.07 µm</text>
</g>
<clipPath id="cc4"><rect x="100.8" y="819.8" width="228" height="103.9"/></clipPath>
<g clip-path="url(#cc4)">
<rect x="100.8" y="819.8" width="228" height="103.9" fill="#0c0c0c"/>
<rect x="100.8" y="819.8" width="228" height="103.9" filter="url(#grain)" opacity="0.16"/>
<ellipse cx="127.7" cy="864.2" rx="16.7" ry="16.7" fill="url(#halo)"/>
<ellipse cx="127.7" cy="864.2" rx="11.1" ry="11.1" fill="url(#glow)"/>
<ellipse cx="156.8" cy="865.3" rx="9.8" ry="9.8" fill="url(#halo)"/>
<ellipse cx="156.8" cy="865.3" rx="6.5" ry="6.5" fill="url(#glow)"/>
<ellipse cx="139.3" cy="867.2" rx="4.9" ry="4.9" fill="url(#glow)"/>
<ellipse cx="149.8" cy="863.7" rx="4.2" ry="4.2" fill="url(#glow)"/>
<ellipse cx="135.1" cy="872.8" rx="4.2" ry="4.2" fill="url(#glow)"/>
<ellipse cx="145.2" cy="880.5" rx="4.2" ry="4.2" fill="url(#glow)"/>
<ellipse cx="142.8" cy="870" rx="3.5" ry="3.5" fill="url(#glow)"/>
<ellipse cx="126" cy="875.1" rx="2.8" ry="2.8" fill="url(#glow)"/>
<ellipse cx="155.7" cy="871.9" rx="2.8" ry="2.8" fill="url(#glow)"/>
<ellipse cx="146.3" cy="858.3" rx="2.5" ry="2.5" fill="url(#glow)"/>
<ellipse cx="177.8" cy="860.2" rx="3.5" ry="3.5" fill="url(#glow)"/>
<ellipse cx="197" cy="856" rx="4.6" ry="4.6" fill="url(#glow)"/>
<ellipse cx="208.9" cy="854.4" rx="2.8" ry="2.8" fill="url(#glow)"/>
<ellipse cx="215.9" cy="856" rx="2.5" ry="2.5" fill="url(#glow)"/>
<ellipse cx="212.8" cy="862.3" rx="2.5" ry="2.5" fill="url(#glow)"/>
<ellipse cx="216.3" cy="874.2" rx="4.2" ry="4.2" fill="url(#glow)"/>
<ellipse cx="252.5" cy="874" rx="4.6" ry="4.6" fill="url(#glow)"/>
<ellipse cx="251.8" cy="857.6" rx="2.5" ry="2.5" fill="url(#glow)"/>
<ellipse cx="264.9" cy="854.8" rx="2.8" ry="2.8" fill="url(#glow)"/>
<ellipse cx="225.7" cy="893.3" rx="4.9" ry="4.9" fill="url(#glow)"/>
<ellipse cx="237.3" cy="885.6" rx="2.8" ry="2.8" fill="url(#glow)"/>
<ellipse cx="176.2" cy="892.6" rx="2.8" ry="2.8" fill="url(#glow)"/>
<ellipse cx="177.8" cy="888.2" rx="1.6" ry="1.6" fill="url(#glow)"/>
<ellipse cx="203" cy="904.5" rx="2.8" ry="2.8" fill="url(#glow)"/>
<ellipse cx="194.2" cy="909.2" rx="2.5" ry="2.5" fill="url(#glow)"/>
<ellipse cx="301.5" cy="895" rx="2.5" ry="2.5" fill="url(#glow)"/>
<ellipse cx="292.9" cy="875.8" rx="1.6" ry="1.6" fill="url(#glow)"/>
<ellipse cx="280.5" cy="847.4" rx="1.4" ry="1.4" fill="url(#glow)"/>
<ellipse cx="187.2" cy="829.2" rx="1.4" ry="1.4" fill="url(#glow)"/>
<ellipse cx="190" cy="850.2" rx="1.6" ry="1.6" fill="url(#glow)"/>
<path d="M120.2 851.4V840.4H305V900.8" fill="none" stroke="#fff" stroke-width="2.1" stroke-linejoin="round"/><polygon points="120.2,857.2 116.5,850.4 123.9,850.4" fill="#fff"/>
<text x="230" y="835.5" font-family='"Liberation Sans", sans-serif' font-size="18.7" fill="#fff">30.01 µm</text>
</g>
<clipPath id="cc5"><rect x="100.8" y="926" width="277.7" height="99.6"/></clipPath>
<g clip-path="url(#cc5)">
<rect x="100.8" y="926" width="277.7" height="99.6" fill="#0e0e0e"/>
<rect x="100.8" y="926" width="277.7" height="99.6" filter="url(#grain)" opacity="0.16"/>
<ellipse cx="140.1" cy="965.1" rx="14.1" ry="18" fill="url(#halo)"/>
<ellipse cx="140.1" cy="965.1" rx="9.4" ry="12" fill="url(#glow)"/>
<ellipse cx="147.6" cy="975" rx="18" ry="15.7" fill="url(#halo)"/>
<ellipse cx="147.6" cy="975" rx="12" ry="10.5" fill="url(#glow)"/>
<ellipse cx="144.8" cy="969.8" rx="13.1" ry="15.7" fill="url(#glow)" opacity="0.6"/>
<ellipse cx="184" cy="975.8" rx="5.7" ry="5.7" fill="url(#glow)"/>
<ellipse cx="161.2" cy="965.1" rx="3.4" ry="3.4" fill="url(#glow)"/>
<ellipse cx="162.5" cy="972" rx="3.4" ry="3.4" fill="url(#glow)"/>
<ellipse cx="167.2" cy="981" rx="3.9" ry="3.9" fill="url(#glow)"/>
<ellipse cx="156.4" cy="987.2" rx="3.9" ry="3.9" fill="url(#glow)"/>
<ellipse cx="157.9" cy="980.1" rx="2.8" ry="2.8" fill="url(#glow)"/>
<ellipse cx="168.1" cy="989.4" rx="2.8" ry="2.8" fill="url(#glow)"/>
<ellipse cx="172.4" cy="989.8" rx="2.6" ry="2.6" fill="url(#glow)"/>
<ellipse cx="177.5" cy="986.6" rx="3.4" ry="3.4" fill="url(#glow)"/>
<ellipse cx="180.3" cy="990.3" rx="3.9" ry="3.9" fill="url(#glow)"/>
<ellipse cx="170" cy="1001.9" rx="2.8" ry="2.8" fill="url(#glow)"/>
<ellipse cx="179.3" cy="969.8" rx="2.6" ry="2.6" fill="url(#glow)"/>
<ellipse cx="183.1" cy="963.3" rx="2" ry="2" fill="url(#glow)"/>
<ellipse cx="201.7" cy="963.3" rx="2.3" ry="2.3" fill="url(#glow)"/>
<ellipse cx="201.4" cy="981.4" rx="2.5" ry="2.5" fill="url(#glow)"/>
<ellipse cx="210.5" cy="978.2" rx="2" ry="2" fill="url(#glow)"/>
<ellipse cx="219.5" cy="974.5" rx="2.5" ry="2.5" fill="url(#glow)"/>
<ellipse cx="234.8" cy="975" rx="2.3" ry="2.3" fill="url(#glow)"/>
<ellipse cx="235.9" cy="958.6" rx="2.8" ry="2.8" fill="url(#glow)"/>
<ellipse cx="227.9" cy="987" rx="3.1" ry="3.1" fill="url(#glow)"/>
<ellipse cx="233.5" cy="990.9" rx="3.6" ry="3.6" fill="url(#glow)"/>
<ellipse cx="206" cy="995.2" rx="3.1" ry="3.1" fill="url(#glow)"/>
<ellipse cx="198.9" cy="999.7" rx="2.5" ry="2.5" fill="url(#glow)"/>
<ellipse cx="219.5" cy="990.3" rx="1.6" ry="1.6" fill="url(#glow)"/>
<ellipse cx="224.1" cy="1000.2" rx="1.6" ry="1.6" fill="url(#glow)"/>
<ellipse cx="235.7" cy="1002.8" rx="3.1" ry="3.1" fill="url(#glow)"/>
<ellipse cx="240.4" cy="992.6" rx="1.4" ry="1.4" fill="url(#glow)"/>
<ellipse cx="212.6" cy="1012.7" rx="2.3" ry="2.3" fill="url(#glow)"/>
<ellipse cx="253.6" cy="983.8" rx="2.8" ry="2.8" fill="url(#glow)"/>
<ellipse cx="273.6" cy="983.4" rx="3.1" ry="3.1" fill="url(#glow)"/>
<ellipse cx="283.9" cy="985.1" rx="1.6" ry="1.6" fill="url(#glow)"/>
<ellipse cx="261.8" cy="962" rx="3.1" ry="3.1" fill="url(#glow)"/>
<ellipse cx="278.3" cy="965.1" rx="2.6" ry="2.6" fill="url(#glow)"/>
<ellipse cx="283.9" cy="970.2" rx="2.3" ry="2.3" fill="url(#glow)"/>
<ellipse cx="257.7" cy="945.5" rx="2" ry="2" fill="url(#glow)"/>
<ellipse cx="194.3" cy="941.2" rx="2" ry="2" fill="url(#glow)"/>
<ellipse cx="190.5" cy="946.5" rx="1.6" ry="1.6" fill="url(#glow)"/>
<ellipse cx="279.6" cy="1004" rx="2.6" ry="2.6" fill="url(#glow)"/>
<ellipse cx="293.6" cy="1003.8" rx="2" ry="2" fill="url(#glow)"/>
<ellipse cx="305" cy="1001.5" rx="2.3" ry="2.3" fill="url(#glow)"/>
<ellipse cx="312.4" cy="997.8" rx="2" ry="2" fill="url(#glow)"/>
<ellipse cx="274.9" cy="1016.8" rx="1.6" ry="1.6" fill="url(#glow)"/>
<ellipse cx="306.6" cy="956.4" rx="1.4" ry="1.4" fill="url(#glow)"/>
<ellipse cx="313.4" cy="959" rx="1.6" ry="1.6" fill="url(#glow)"/>
<ellipse cx="368.2" cy="956.7" rx="2" ry="2" fill="url(#glow)"/>
<ellipse cx="346" cy="960.5" rx="2.6" ry="2.6" fill="url(#glow)" opacity="0.4"/>
<ellipse cx="128" cy="954.9" rx="1.4" ry="1.4" fill="url(#glow)"/>
<ellipse cx="174.7" cy="945.5" rx="2.6" ry="2.6" fill="url(#glow)" opacity="0.35"/>
<ellipse cx="213.9" cy="1001.5" rx="2.6" ry="2.6" fill="url(#glow)" opacity="0.4"/>
<ellipse cx="237.2" cy="995.9" rx="2.8" ry="2.8" fill="url(#glow)" opacity="0.4"/>
<ellipse cx="174.7" cy="979.1" rx="36.6" ry="15.7" fill="url(#glow)" opacity="0.08"/>
<rect x="101.3" y="926.5" width="276.7" height="98.6" fill="none" stroke="#5a5a5a" stroke-width="1"/>
<path d="M131.4 948.1V932.1H372.9V959.5" fill="none" stroke="#fff" stroke-width="2.1" stroke-linejoin="round"/><polygon points="131.4,953.9 127.7,947.1 135.1,947.1" fill="#fff"/>
<text x="288.2" y="951.1" font-family='"Liberation Sans", sans-serif' font-size="18.7" fill="#fff">36.03 µm</text>
</g>
<clipPath id="cc6"><rect x="447.8" y="515.9" width="193.7" height="93.9"/></clipPath>
<g clip-path="url(#cc6)">
<rect x="447.8" y="515.9" width="193.7" height="93.9" fill="#171717"/>
<rect x="447.8" y="515.9" width="193.7" height="93.9" filter="url(#grain)" opacity="0.16"/>
<ellipse cx="488.1" cy="563.5" rx="25.1" ry="15.3" fill="url(#halo)"/>
<ellipse cx="488.1" cy="563.5" rx="16.7" ry="10.2" fill="url(#glow)"/>
<ellipse cx="495.9" cy="557" rx="9.8" ry="9.8" fill="url(#halo)"/>
<ellipse cx="495.9" cy="557" rx="6.6" ry="6.6" fill="url(#glow)"/>
<ellipse cx="481.6" cy="568.7" rx="10.9" ry="7.6" fill="url(#halo)"/>
<ellipse cx="481.6" cy="568.7" rx="7.3" ry="5.1" fill="url(#glow)"/>
<ellipse cx="508.9" cy="551.8" rx="11.5" ry="11.5" fill="url(#halo)"/>
<ellipse cx="508.9" cy="551.8" rx="7.6" ry="7.6" fill="url(#glow)"/>
<ellipse cx="544.8" cy="547.1" rx="13.1" ry="13.1" fill="url(#halo)"/>
<ellipse cx="544.8" cy="547.1" rx="8.7" ry="8.7" fill="url(#glow)"/>
<ellipse cx="552.6" cy="539.3" rx="3.1" ry="3.1" fill="url(#glow)"/>
<ellipse cx="532.8" cy="566.1" rx="5.1" ry="5.1" fill="url(#glow)"/>
<ellipse cx="501.9" cy="583.5" rx="3.9" ry="3.9" fill="url(#glow)"/>
<ellipse cx="512.8" cy="592.9" rx="3.5" ry="3.5" fill="url(#glow)"/>
<ellipse cx="521.1" cy="592.6" rx="3.1" ry="3.1" fill="url(#glow)"/>
<ellipse cx="572.6" cy="551.8" rx="2.3" ry="2.3" fill="url(#glow)"/>
<ellipse cx="554.4" cy="559.6" rx="2.3" ry="2.3" fill="url(#glow)"/>
<ellipse cx="509.4" cy="538" rx="1.8" ry="1.8" fill="url(#glow)"/>
<ellipse cx="528.4" cy="554.4" rx="1.8" ry="1.8" fill="url(#glow)"/>
<ellipse cx="494.6" cy="551.8" rx="2.3" ry="2.3" fill="url(#glow)"/>
<ellipse cx="614.7" cy="521.1" rx="2.3" ry="2.3" fill="url(#glow)" opacity="0.4"/>
<ellipse cx="451.7" cy="527.1" rx="1.4" ry="1.4" fill="url(#glow)"/>
<ellipse cx="465.2" cy="556.2" rx="1.4" ry="1.4" fill="url(#glow)"/>
<ellipse cx="560.4" cy="553.1" rx="1.4" ry="1.4" fill="url(#glow)"/>
<rect x="448.3" y="516.4" width="192.7" height="92.9" fill="none" stroke="#6a6a6a" stroke-width="1"/>
<path d="M477.2 581.5V601.7H619.9V527.1" fill="none" stroke="#fff" stroke-width="2.1" stroke-linejoin="round"/><polygon points="477.2,575.7 473.5,582.5 480.9,582.5" fill="#fff"/>
<text x="538" y="593.4" font-family='"Liberation Sans", sans-serif' font-size="18.7" fill="#fff">18.61 µm</text>
</g>
<clipPath id="cc7"><rect x="644.1" y="515.9" width="174.7" height="92.3"/></clipPath>
<g clip-path="url(#cc7)">
<rect x="644.1" y="515.9" width="174.7" height="92.3" fill="#0c0c0c"/>
<rect x="644.1" y="515.9" width="174.7" height="92.3" filter="url(#grain)" opacity="0.16"/>
<ellipse cx="735.9" cy="556.2" rx="9.8" ry="12" fill="url(#halo)"/>
<ellipse cx="735.9" cy="556.2" rx="6.6" ry="8" fill="url(#glow)"/>
<ellipse cx="674.8" cy="558.8" rx="4.4" ry="4.4" fill="url(#glow)"/>
<ellipse cx="718.2" cy="555.2" rx="3.1" ry="3.1" fill="url(#glow)"/>
<ellipse cx="717.7" cy="589" rx="3.1" ry="3.1" fill="url(#glow)"/>
<ellipse cx="729.4" cy="536.7" rx="2.7" ry="2.7" fill="url(#glow)"/>
<ellipse cx="723.9" cy="525.8" rx="1.8" ry="1.8" fill="url(#glow)"/>
<ellipse cx="702.6" cy="539.6" rx="1.8" ry="1.8" fill="url(#glow)"/>
<ellipse cx="680" cy="538" rx="2.3" ry="2.3" fill="url(#glow)" opacity="0.4"/>
<ellipse cx="651.9" cy="560.9" rx="2.3" ry="2.3" fill="url(#glow)"/>
<ellipse cx="653.7" cy="566.1" rx="2.3" ry="2.3" fill="url(#glow)"/>
<ellipse cx="659.7" cy="560.4" rx="1.8" ry="1.8" fill="url(#glow)"/>
<ellipse cx="812.3" cy="562.2" rx="2.3" ry="2.3" fill="url(#glow)"/>
<ellipse cx="720.8" cy="545.8" rx="1.8" ry="1.8" fill="url(#glow)"/>
<ellipse cx="709.1" cy="550.5" rx="1.4" ry="1.4" fill="url(#glow)"/>
<ellipse cx="690.9" cy="554.4" rx="1.4" ry="1.4" fill="url(#glow)"/>
<ellipse cx="702.6" cy="589.5" rx="1.4" ry="1.4" fill="url(#glow)"/>
<ellipse cx="677.1" cy="588.7" rx="4.4" ry="4.4" fill="url(#glow)"/>
<circle cx="677.1" cy="588.7" r="14" fill="#fff" fill-opacity="0.36" filter="url(#bl)"/>
<circle cx="677.1" cy="588.7" r="12.5" fill="none" stroke="#fff" stroke-opacity="0.92" stroke-width="3.4" filter="url(#bl)"/>
<circle cx="677.1" cy="588.7" r="7.3" fill="none" stroke="#fff" stroke-opacity="0.35" stroke-width="2.1" filter="url(#bl)"/>
<rect x="644.6" y="516.4" width="173.7" height="91.3" fill="none" stroke="#5a5a5a" stroke-width="1"/>
<path d="M648 548.6V521.4H816.5V562.7" fill="none" stroke="#fff" stroke-width="2.1" stroke-linejoin="round"/><polygon points="648,554.4 644.3,547.6 651.7,547.6" fill="#fff"/>
<text x="736.1" y="540.1" font-family='"Liberation Sans", sans-serif' font-size="18.7" fill="#fff">24.31 µm</text>
</g>
<clipPath id="cc8"><rect x="444.9" y="618.2" width="228.3" height="87.6"/></clipPath>
<g clip-path="url(#cc8)">
<rect x="444.9" y="618.2" width="228.3" height="87.6" fill="#121212"/>
<rect x="444.9" y="618.2" width="228.3" height="87.6" filter="url(#grain)" opacity="0.16"/>
<ellipse cx="468.2" cy="660.7" rx="15.5" ry="15.5" fill="url(#halo)"/>
<ellipse cx="468.2" cy="660.7" rx="10.4" ry="10.4" fill="url(#glow)"/>
<ellipse cx="519.8" cy="627.6" rx="4.1" ry="4.1" fill="url(#glow)"/>
<ellipse cx="513" cy="634.4" rx="2" ry="2" fill="url(#glow)"/>
<ellipse cx="475" cy="649.6" rx="2.9" ry="2.9" fill="url(#glow)"/>
<ellipse cx="482.8" cy="652.3" rx="2.9" ry="2.9" fill="url(#glow)"/>
<ellipse cx="490" cy="653.8" rx="2.9" ry="2.9" fill="url(#glow)"/>
<ellipse cx="497.4" cy="657.2" rx="3.5" ry="3.5" fill="url(#glow)"/>
<ellipse cx="485.2" cy="660.7" rx="2.9" ry="2.9" fill="url(#glow)"/>
<ellipse cx="514.9" cy="658.3" rx="4.1" ry="4.1" fill="url(#glow)"/>
<ellipse cx="509.1" cy="668.4" rx="3.2" ry="3.2" fill="url(#glow)"/>
<ellipse cx="477" cy="672.7" rx="2.9" ry="2.9" fill="url(#glow)"/>
<ellipse cx="527.6" cy="666.1" rx="2.3" ry="2.3" fill="url(#glow)"/>
<ellipse cx="534.4" cy="663.6" rx="1.7" ry="1.7" fill="url(#glow)"/>
<ellipse cx="530.5" cy="653.5" rx="2" ry="2" fill="url(#glow)"/>
<ellipse cx="543.7" cy="650.3" rx="2.3" ry="2.3" fill="url(#glow)"/>
<ellipse cx="546.1" cy="659.3" rx="2" ry="2" fill="url(#glow)"/>
<ellipse cx="552.5" cy="656.8" rx="3.5" ry="3.5" fill="url(#glow)"/>
<ellipse cx="558.3" cy="655.8" rx="2.3" ry="2.3" fill="url(#glow)"/>
<ellipse cx="577.2" cy="653.3" rx="2.4" ry="2.4" fill="url(#glow)"/>
<ellipse cx="585.6" cy="650.9" rx="4.4" ry="4.4" fill="url(#glow)"/>
<ellipse cx="597.3" cy="650" rx="2.4" ry="2.4" fill="url(#glow)"/>
<ellipse cx="607.8" cy="648.6" rx="1.7" ry="1.7" fill="url(#glow)"/>
<ellipse cx="614.2" cy="648.4" rx="2" ry="2" fill="url(#glow)"/>
<ellipse cx="619.4" cy="644.5" rx="3.5" ry="3.5" fill="url(#glow)"/>
<ellipse cx="633.1" cy="636.9" rx="3.5" ry="3.5" fill="url(#glow)"/>
<ellipse cx="637.5" cy="635" rx="2.9" ry="2.9" fill="url(#glow)"/>
<ellipse cx="646.3" cy="632" rx="2.6" ry="2.6" fill="url(#glow)"/>
<ellipse cx="630.3" cy="651.5" rx="2.4" ry="2.4" fill="url(#glow)"/>
<ellipse cx="606.4" cy="634" rx="1.4" ry="1.4" fill="url(#glow)"/>
<ellipse cx="446.8" cy="637.9" rx="1.4" ry="1.4" fill="url(#glow)"/>
<ellipse cx="495.1" cy="670.4" rx="1.7" ry="1.7" fill="url(#glow)"/>
<ellipse cx="486.7" cy="669.8" rx="1.4" ry="1.4" fill="url(#glow)"/>
<ellipse cx="638.5" cy="700.6" rx="1.4" ry="1.4" fill="url(#glow)"/>
<ellipse cx="653.5" cy="686.9" rx="1.4" ry="1.4" fill="url(#glow)"/>
<polyline points="468.2,660.7 475,649.6 482.8,652.3 490,653.8 497.4,657.2 514.9,658.3 530.5,653.5 543.7,650.3" fill="none" stroke="#fff" stroke-opacity="0.3" stroke-width="1.2" stroke-linejoin="round" stroke-linecap="round" filter="url(#bl)"/>
<polyline points="485.2,660.7 509.1,668.4 527.6,666.1 534.4,663.6 546.1,659.3 552.5,656.8 558.3,655.8 577.2,653.3 585.6,650.9 597.3,650 614.2,648.4 619.4,644.5 633.1,636.9 646.3,632" fill="none" stroke="#fff" stroke-opacity="0.3" stroke-width="1.2" stroke-linejoin="round" stroke-linecap="round" filter="url(#bl)"/>
<polyline points="477,672.7 495.1,670.4 509.1,668.4" fill="none" stroke="#fff" stroke-opacity="0.3" stroke-width="1.2" stroke-linejoin="round" stroke-linecap="round" filter="url(#bl)"/>
<polygon points="654.1,705.8 673.2,686.9 673.2,705.8" fill="#040404"/>
<path d="M461 673.9V693.7H649.8V630.5" fill="none" stroke="#fff" stroke-width="2.1" stroke-linejoin="round"/><polygon points="461,668.1 457.3,674.9 464.7,674.9" fill="#fff"/>
<text x="573.6" y="689.9" font-family='"Liberation Sans", sans-serif' font-size="18.7" fill="#fff">37.91 µm</text>
</g>
<clipPath id="cc9"><rect x="444.9" y="708.3" width="270.5" height="105.1"/></clipPath>
<g clip-path="url(#cc9)">
<rect x="444.9" y="708.3" width="270.5" height="105.1" fill="#040404"/>
<rect x="444.9" y="708.3" width="270.5" height="105.1" filter="url(#grain)" opacity="0.06"/>
<ellipse cx="484.8" cy="795" rx="12.3" ry="9" fill="url(#halo)"/>
<ellipse cx="484.8" cy="795" rx="8.2" ry="6" fill="url(#glow)"/>
<ellipse cx="511" cy="795" rx="10.2" ry="8.2" fill="url(#halo)"/>
<ellipse cx="511" cy="795" rx="6.8" ry="5.4" fill="url(#glow)"/>
<ellipse cx="523.7" cy="795.9" rx="6" ry="3.8" fill="url(#glow)"/>
<ellipse cx="509.1" cy="803.7" rx="3.5" ry="3.5" fill="url(#glow)"/>
<ellipse cx="539.3" cy="790.1" rx="5.4" ry="6" fill="url(#glow)"/>
<ellipse cx="556.8" cy="791.1" rx="2.9" ry="2.9" fill="url(#glow)"/>
<ellipse cx="533.4" cy="776.5" rx="5.4" ry="3.3" fill="url(#glow)"/>
<ellipse cx="502.3" cy="777" rx="6.8" ry="2.7" fill="url(#glow)" opacity="0.6"/>
<ellipse cx="492.5" cy="781.3" rx="4.1" ry="2.3" fill="url(#glow)" opacity="0.5"/>
<ellipse cx="556.8" cy="772.6" rx="5.4" ry="2.7" fill="url(#glow)"/>
<ellipse cx="573.3" cy="767.1" rx="6" ry="3.3" fill="url(#glow)"/>
<ellipse cx="579.2" cy="769.3" rx="2.9" ry="2.9" fill="url(#glow)"/>
<ellipse cx="587.9" cy="752.1" rx="4.4" ry="3.5" fill="url(#glow)"/>
<ellipse cx="611.3" cy="773.5" rx="5.4" ry="4.9" fill="url(#glow)"/>
<ellipse cx="631.7" cy="763.4" rx="4.4" ry="3.8" fill="url(#glow)"/>
<ellipse cx="647.3" cy="749.2" rx="6" ry="4.4" fill="url(#glow)"/>
<ellipse cx="626.5" cy="740.5" rx="2.9" ry="2.9" fill="url(#glow)"/>
<ellipse cx="612.2" cy="746.3" rx="2.3" ry="2.3" fill="url(#glow)" opacity="0.6"/>
<ellipse cx="604.5" cy="748.2" rx="2.4" ry="2.4" fill="url(#glow)" opacity="0.6"/>
<ellipse cx="658.4" cy="732.1" rx="4.9" ry="3.3" fill="url(#glow)"/>
<ellipse cx="670.6" cy="729.4" rx="4.9" ry="3.3" fill="url(#glow)"/>
<ellipse cx="663.8" cy="750.6" rx="4.4" ry="2.7" fill="url(#glow)"/>
<ellipse cx="675.5" cy="752.1" rx="5.4" ry="2.7" fill="url(#glow)"/>
<ellipse cx="686.2" cy="753.5" rx="4.1" ry="2.9" fill="url(#glow)"/>
<ellipse cx="691.1" cy="721" rx="11.4" ry="5.7" fill="url(#halo)"/>
<ellipse cx="691.1" cy="721" rx="7.6" ry="3.8" fill="url(#glow)"/>
<ellipse cx="693" cy="740.5" rx="3.8" ry="3.5" fill="url(#glow)"/>
<ellipse cx="700.8" cy="770.6" rx="2.3" ry="2.3" fill="url(#glow)"/>
<ellipse cx="590.8" cy="787.2" rx="2.3" ry="2.3" fill="url(#glow)" opacity="0.5"/>
<ellipse cx="599.6" cy="783.3" rx="2.3" ry="2.3" fill="url(#glow)" opacity="0.4"/>
<ellipse cx="641.4" cy="735.6" rx="2.3" ry="2.3" fill="url(#glow)" opacity="0.4"/>
<ellipse cx="681.3" cy="723.9" rx="2" ry="2" fill="url(#glow)"/>
<polyline points="484.8,795 502.3,777 533.4,776.5 556.8,772.6 573.3,767.1 587.9,752.1 612.2,746.3 626.5,740.5 658.4,732.1 670.6,729.4 691.1,721" fill="none" stroke="#fff" stroke-opacity="0.12" stroke-width="5" stroke-linejoin="round" stroke-linecap="round" filter="url(#bl)"/>
<polyline points="511,795 539.3,790.1 556.8,791.1 590.8,787.2 611.3,773.5 631.7,763.4 647.3,749.2 663.8,750.6 686.2,753.5" fill="none" stroke="#fff" stroke-opacity="0.12" stroke-width="5" stroke-linejoin="round" stroke-linecap="round" filter="url(#bl)"/>
<path d="M478.5 793V714.2H704.1V777.8" fill="none" stroke="#fff" stroke-width="2.1" stroke-linejoin="round"/><polygon points="478.5,798.8 474.8,792 482.2,792" fill="#fff"/>
<text x="486.4" y="744.3" font-family='"Liberation Sans", sans-serif' font-size="18.7" fill="#fff">44.52 µm</text>
</g>
<clipPath id="cc10"><rect x="406.2" y="821.3" width="313.3" height="110.4"/></clipPath>
<g clip-path="url(#cc10)">
<rect x="406.2" y="821.3" width="313.3" height="110.4" fill="#0a0a0a"/>
<rect x="406.2" y="821.3" width="313.3" height="110.4" filter="url(#grain)" opacity="0.16"/>
<ellipse cx="508.3" cy="880" rx="5.5" ry="5.5" fill="url(#glow)"/>
<ellipse cx="507.4" cy="866.8" rx="4" ry="4" fill="url(#glow)"/>
<ellipse cx="544.1" cy="880" rx="4.9" ry="4.9" fill="url(#glow)"/>
<ellipse cx="537.5" cy="880" rx="3.3" ry="3.3" fill="url(#glow)"/>
<ellipse cx="538" cy="874.5" rx="2.6" ry="2.6" fill="url(#glow)"/>
<ellipse cx="547.9" cy="855.1" rx="3.3" ry="3.3" fill="url(#glow)"/>
<ellipse cx="549.2" cy="861.3" rx="4" ry="4" fill="url(#glow)"/>
<ellipse cx="586.6" cy="885.5" rx="4.3" ry="4.3" fill="url(#glow)"/>
<ellipse cx="595.4" cy="851" rx="3.3" ry="3.3" fill="url(#glow)"/>
<ellipse cx="640.5" cy="921.8" rx="10.2" ry="10.2" fill="url(#halo)"/>
<ellipse cx="640.5" cy="921.8" rx="6.8" ry="6.8" fill="url(#glow)"/>
<ellipse cx="636.1" cy="902" rx="3.3" ry="3.3" fill="url(#glow)"/>
<ellipse cx="645.3" cy="910.1" rx="4" ry="4" fill="url(#glow)"/>
<ellipse cx="651.9" cy="916.3" rx="4" ry="4" fill="url(#glow)"/>
<ellipse cx="637.6" cy="912.3" rx="3.3" ry="3.3" fill="url(#glow)"/>
<ellipse cx="440.3" cy="917" rx="10.2" ry="6.5" fill="url(#halo)"/>
<ellipse cx="440.3" cy="917" rx="6.8" ry="4.3" fill="url(#glow)"/>
<ellipse cx="441.8" cy="921.8" rx="3.3" ry="3.3" fill="url(#glow)"/>
<ellipse cx="448.4" cy="909.3" rx="2.6" ry="2.6" fill="url(#glow)"/>
<ellipse cx="518.8" cy="881.5" rx="2.3" ry="2.3" fill="url(#glow)"/>
<ellipse cx="524.3" cy="882.2" rx="1.9" ry="1.9" fill="url(#glow)"/>
<ellipse cx="529.8" cy="882.2" rx="1.9" ry="1.9" fill="url(#glow)"/>
<ellipse cx="556.2" cy="882.9" rx="2.3" ry="2.3" fill="url(#glow)"/>
<ellipse cx="568.3" cy="882.6" rx="1.9" ry="1.9" fill="url(#glow)"/>
<ellipse cx="583.1" cy="867.5" rx="1.9" ry="1.9" fill="url(#glow)"/>
<ellipse cx="577.8" cy="861.3" rx="1.5" ry="1.5" fill="url(#glow)"/>
<ellipse cx="527.2" cy="858" rx="2.3" ry="2.3" fill="url(#glow)"/>
<ellipse cx="523.2" cy="867.5" rx="2.3" ry="2.3" fill="url(#glow)"/>
<ellipse cx="565" cy="850.3" rx="1.9" ry="1.9" fill="url(#glow)"/>
<ellipse cx="566.6" cy="842.6" rx="1.5" ry="1.5" fill="url(#glow)"/>
<ellipse cx="496.8" cy="851.8" rx="1.5" ry="1.5" fill="url(#glow)"/>
<ellipse cx="463.8" cy="860.9" rx="1.9" ry="1.9" fill="url(#glow)"/>
<ellipse cx="613.4" cy="886.2" rx="1.9" ry="1.9" fill="url(#glow)"/>
<ellipse cx="626" cy="895.4" rx="1.9" ry="1.9" fill="url(#glow)"/>
<ellipse cx="583.1" cy="899.4" rx="1.5" ry="1.5" fill="url(#glow)"/>
<ellipse cx="606.8" cy="842.2" rx="2.3" ry="2.3" fill="url(#glow)" opacity="0.4"/>
<ellipse cx="655.2" cy="871.6" rx="2.3" ry="2.3" fill="url(#glow)" opacity="0.4"/>
<ellipse cx="611.2" cy="862.8" rx="1.5" ry="1.5" fill="url(#glow)"/>
<ellipse cx="603.5" cy="863.5" rx="1.5" ry="1.5" fill="url(#glow)"/>
<ellipse cx="616.7" cy="860.2" rx="1.4" ry="1.4" fill="url(#glow)"/>
<ellipse cx="648.6" cy="855.1" rx="1.9" ry="1.9" fill="url(#glow)"/>
<ellipse cx="577.8" cy="827.6" rx="1.9" ry="1.9" fill="url(#glow)"/>
<ellipse cx="539.3" cy="891" rx="1.5" ry="1.5" fill="url(#glow)"/>
<ellipse cx="588.1" cy="855.8" rx="1.5" ry="1.5" fill="url(#glow)"/>
<ellipse cx="703" cy="852.5" rx="1.5" ry="1.5" fill="url(#glow)"/>
<ellipse cx="467.1" cy="875.6" rx="46.2" ry="2.2" fill="url(#glow)" opacity="0.55"/>
<rect x="406.7" y="821.8" width="312.3" height="109.4" fill="none" stroke="#4a4a4a" stroke-width="1"/>
<path d="M433 863.6V830.5H705.8V857.3" fill="none" stroke="#fff" stroke-width="2.1" stroke-linejoin="round"/><polygon points="433,869.4 429.3,862.6 436.7,862.6" fill="#fff"/>
<text x="620.8" y="853.6" font-family='"Liberation Sans", sans-serif' font-size="18.7" fill="#fff">46.57 µm</text>
</g>
<clipPath id="cc11"><rect x="722.3" y="853.1" width="271.5" height="78.3"/></clipPath>
<g clip-path="url(#cc11)">
<rect x="722.3" y="853.1" width="271.5" height="78.3" fill="#010101"/>
<rect x="722.3" y="853.1" width="271.5" height="78.3" filter="url(#grain)" opacity="0.06"/>
<ellipse cx="759.9" cy="894.3" rx="25.2" ry="25.2" fill="url(#halo)"/>
<ellipse cx="759.9" cy="894.3" rx="16.8" ry="16.8" fill="url(#glow)"/>
<ellipse cx="826.2" cy="874" rx="5.4" ry="5.4" fill="url(#glow)"/>
<ellipse cx="855.2" cy="886.6" rx="4.9" ry="4.9" fill="url(#glow)"/>
<ellipse cx="854.2" cy="896.6" rx="4.9" ry="4.9" fill="url(#glow)"/>
<ellipse cx="789.4" cy="890.1" rx="4.1" ry="4.1" fill="url(#glow)"/>
<ellipse cx="782.7" cy="889.5" rx="3.5" ry="3.5" fill="url(#glow)"/>
<ellipse cx="793.9" cy="879.8" rx="3.5" ry="3.5" fill="url(#glow)"/>
<ellipse cx="787.5" cy="881.7" rx="2.9" ry="2.9" fill="url(#glow)"/>
<ellipse cx="814.6" cy="879.4" rx="2.3" ry="2.3" fill="url(#glow)"/>
<ellipse cx="824.6" cy="900.7" rx="2.9" ry="2.9" fill="url(#glow)"/>
<ellipse cx="792.9" cy="904" rx="2.6" ry="2.6" fill="url(#glow)"/>
<ellipse cx="881.9" cy="904.9" rx="3.5" ry="3.5" fill="url(#glow)"/>
<ellipse cx="802.6" cy="911.3" rx="2" ry="2" fill="url(#glow)"/>
<ellipse cx="774.4" cy="875.9" rx="2.3" ry="2.3" fill="url(#glow)" opacity="0.5"/>
<ellipse cx="770.1" cy="909.8" rx="2.3" ry="2.3" fill="url(#glow)"/>
<ellipse cx="783.1" cy="898.2" rx="2" ry="2" fill="url(#glow)"/>
<ellipse cx="795.2" cy="866.8" rx="1.7" ry="1.7" fill="url(#glow)"/>
<ellipse cx="811.7" cy="867.2" rx="1.4" ry="1.4" fill="url(#glow)"/>
<ellipse cx="972.2" cy="916.5" rx="4.3" ry="4.3" fill="url(#glow)" opacity="0.3"/>
<ellipse cx="905.4" cy="917.9" rx="1.4" ry="1.4" fill="url(#glow)"/>
<ellipse cx="902.2" cy="905.9" rx="1.4" ry="1.4" fill="url(#glow)"/>
<ellipse cx="917" cy="907.5" rx="1.4" ry="1.4" fill="url(#glow)"/>
<ellipse cx="833.9" cy="882.7" rx="1.4" ry="1.4" fill="url(#glow)" opacity="0.5"/>
<ellipse cx="810.7" cy="900.1" rx="1.4" ry="1.4" fill="url(#glow)"/>
<rect x="722.8" y="853.6" width="270.5" height="77.3" fill="none" stroke="#cfcfcf" stroke-width="1"/>
<path d="M745.5 880.2V860.9H978.3V916.5" fill="none" stroke="#fff" stroke-width="2.1" stroke-linejoin="round"/><polygon points="745.5,886 741.8,879.2 749.2,879.2" fill="#fff"/>
<text x="891" y="883.1" font-family='"Liberation Sans", sans-serif' font-size="18.7" fill="#fff">44.31 µm</text>
</g>
<clipPath id="cc12"><rect x="406.2" y="934.8" width="594.5" height="88.3"/></clipPath>
<g clip-path="url(#cc12)">
<rect x="406.2" y="934.8" width="594.5" height="88.3" fill="#0c0c0c"/>
<rect x="406.2" y="934.8" width="594.5" height="88.3" filter="url(#grain)" opacity="0.16"/>
<ellipse cx="433.1" cy="1002.5" rx="10.4" ry="10.4" fill="url(#halo)"/>
<ellipse cx="433.1" cy="1002.5" rx="6.9" ry="6.9" fill="url(#glow)"/>
<ellipse cx="428.9" cy="988.7" rx="3.1" ry="3.1" fill="url(#glow)"/>
<ellipse cx="433.1" cy="992.8" rx="3.1" ry="3.1" fill="url(#glow)"/>
<ellipse cx="456.8" cy="996.3" rx="5.8" ry="5.2" fill="url(#glow)"/>
<ellipse cx="452.7" cy="997.3" rx="3.1" ry="3.1" fill="url(#glow)"/>
<ellipse cx="475" cy="981.8" rx="3.1" ry="3.1" fill="url(#glow)"/>
<ellipse cx="466.8" cy="987.4" rx="2.5" ry="2.5" fill="url(#glow)"/>
<ellipse cx="447.1" cy="1005.2" rx="2.5" ry="2.5" fill="url(#glow)"/>
<ellipse cx="442.4" cy="998.4" rx="2.2" ry="2.2" fill="url(#glow)"/>
<ellipse cx="477.1" cy="999" rx="3.1" ry="3.1" fill="url(#glow)"/>
<ellipse cx="483.1" cy="998.4" rx="2.2" ry="2.2" fill="url(#glow)"/>
<ellipse cx="502.7" cy="998" rx="5.2" ry="5.2" fill="url(#glow)"/>
<ellipse cx="511" cy="996.9" rx="2.5" ry="2.5" fill="url(#glow)"/>
<ellipse cx="532.9" cy="993.6" rx="2.2" ry="2.2" fill="url(#glow)"/>
<ellipse cx="539.9" cy="996.3" rx="2.2" ry="2.2" fill="url(#glow)"/>
<ellipse cx="544" cy="995.9" rx="1.8" ry="1.8" fill="url(#glow)"/>
<ellipse cx="575.3" cy="996.3" rx="3.7" ry="3.7" fill="url(#glow)"/>
<ellipse cx="590.1" cy="997.3" rx="1.8" ry="1.8" fill="url(#glow)"/>
<ellipse cx="608.7" cy="995.7" rx="4.6" ry="4.6" fill="url(#glow)"/>
<ellipse cx="633.1" cy="990.7" rx="9.5" ry="9.5" fill="url(#halo)"/>
<ellipse cx="633.1" cy="990.7" rx="6.4" ry="6.4" fill="url(#glow)"/>
<ellipse cx="638.3" cy="998.4" rx="2.2" ry="2.2" fill="url(#glow)"/>
<ellipse cx="673.4" cy="992.6" rx="1.8" ry="1.8" fill="url(#glow)"/>
<ellipse cx="665.2" cy="993.2" rx="1.4" ry="1.4" fill="url(#glow)"/>
<ellipse cx="697.2" cy="991.5" rx="2.8" ry="2.8" fill="url(#glow)"/>
<ellipse cx="692.4" cy="991.5" rx="1.4" ry="1.4" fill="url(#glow)"/>
<ellipse cx="516.8" cy="986.6" rx="1.4" ry="1.4" fill="url(#glow)"/>
<ellipse cx="489.5" cy="998.4" rx="1.4" ry="1.4" fill="url(#glow)"/>
<ellipse cx="436.8" cy="1009.7" rx="1.4" ry="1.4" fill="url(#glow)"/>
<ellipse cx="471.3" cy="994.2" rx="1.4" ry="1.4" fill="url(#glow)"/>
<ellipse cx="616.6" cy="995.3" rx="1.4" ry="1.4" fill="url(#glow)"/>
<ellipse cx="640.8" cy="992.2" rx="1.4" ry="1.4" fill="url(#glow)"/>
<ellipse cx="777.5" cy="976.7" rx="10.4" ry="10.4" fill="url(#halo)"/>
<ellipse cx="777.5" cy="976.7" rx="6.9" ry="6.9" fill="url(#glow)"/>
<ellipse cx="758.9" cy="979.8" rx="3.1" ry="3.1" fill="url(#glow)"/>
<ellipse cx="775.8" cy="959.7" rx="2.2" ry="2.2" fill="url(#glow)"/>
<ellipse cx="761" cy="968" rx="1.8" ry="1.8" fill="url(#glow)"/>
<ellipse cx="773.8" cy="970.1" rx="1.8" ry="1.8" fill="url(#glow)"/>
<ellipse cx="751" cy="990.7" rx="2.5" ry="2.5" fill="url(#glow)"/>
<ellipse cx="756.4" cy="992.2" rx="1.8" ry="1.8" fill="url(#glow)"/>
<ellipse cx="772.3" cy="991.5" rx="3.1" ry="3.1" fill="url(#glow)"/>
<ellipse cx="782" cy="991.1" rx="3.1" ry="3.1" fill="url(#glow)"/>
<ellipse cx="786.2" cy="991.8" rx="2.5" ry="2.5" fill="url(#glow)"/>
<ellipse cx="854" cy="991.5" rx="4.3" ry="4.3" fill="url(#glow)"/>
<ellipse cx="842.2" cy="992.2" rx="1.4" ry="1.4" fill="url(#glow)"/>
<ellipse cx="880.8" cy="991.5" rx="1.8" ry="1.8" fill="url(#glow)"/>
<ellipse cx="878.8" cy="978.1" rx="1.8" ry="1.8" fill="url(#glow)"/>
<ellipse cx="913.9" cy="990.5" rx="3.4" ry="3.4" fill="url(#glow)"/>
<ellipse cx="919.5" cy="983.5" rx="2.5" ry="2.5" fill="url(#glow)"/>
<ellipse cx="937.3" cy="981.2" rx="10.4" ry="6.9" fill="url(#halo)"/>
<ellipse cx="937.3" cy="981.2" rx="6.9" ry="4.6" fill="url(#glow)"/>
<ellipse cx="976.9" cy="976.3" rx="1.8" ry="1.8" fill="url(#glow)"/>
<ellipse cx="911.2" cy="1012.8" rx="3.1" ry="3.1" fill="url(#glow)" opacity="0.3"/>
<ellipse cx="709.9" cy="990.5" rx="1.4" ry="1.4" fill="url(#glow)"/>
<ellipse cx="716.5" cy="990.5" rx="1.4" ry="1.4" fill="url(#glow)"/>
<ellipse cx="731" cy="990.5" rx="1.4" ry="1.4" fill="url(#glow)"/>
<ellipse cx="826.5" cy="992.2" rx="1.4" ry="1.4" fill="url(#glow)"/>
<rect x="406.7" y="935.3" width="593.5" height="87.3" fill="none" stroke="#6a6a6a" stroke-width="1"/>
<path d="M426.2 975.4V947.7H980.7V969.4" fill="none" stroke="#fff" stroke-width="2.1" stroke-linejoin="round"/><polygon points="426.2,981.2 422.5,974.4 429.9,974.4" fill="#fff"/>
<text x="625" y="967.8" font-family='"Liberation Sans", sans-serif' font-size="18.7" fill="#fff">103.78 µm</text>
</g>
<text x="280.5" y="493.2" text-anchor="middle" font-family='"Liberation Sans", sans-serif' font-style="italic" font-size="29.5" fill="#000">wt</text>
<line x1="116.5" y1="503.5" x2="413.7" y2="503.5" stroke="#000" stroke-width="2.4"/>
<text x="629.5" y="494.5" font-family='"Liberation Sans", sans-serif' font-style="italic" font-size="32.8" fill="#231f20" stroke="#231f20" stroke-width="0.5">&#916;</text>
<text x="654.5" y="493" font-family='"Liberation Sans", sans-serif' font-style="italic" font-size="29.5" fill="#000">recA</text>
<line x1="446" y1="503.2" x2="974" y2="503.2" stroke="#000" stroke-width="2.4"/>
<g font-family='"Liberation Sans", sans-serif' font-size="29.5" fill="#000">
<text x="-2.2" y="572.5">DMSO</text>
<text x="6.6" y="715.7">MMC</text>
<text x="23.3" y="926.8">val</text>
</g>
<line x1="85.7" y1="624.3" x2="86.8" y2="803.3" stroke="#000" stroke-width="2.8"/>
<line x1="88.3" y1="832.1" x2="89.6" y2="1010.3" stroke="#000" stroke-width="2.8"/>
<text x="-2" y="468.1" font-family='"Liberation Sans", sans-serif' font-weight="bold" font-size="56" fill="#231f20">c</text>
<!-- panel_d -->
<g fill="#666666" stroke="#333333" stroke-width="1">
<circle cx="1180.9" cy="901.3" r="5.4"/>
<circle cx="1177.8" cy="899.6" r="5.4"/>
<circle cx="1183.6" cy="899.6" r="5.4"/>
<circle cx="1180" cy="899.6" r="5.4"/>
<circle cx="1174.3" cy="897" r="5.4"/>
<circle cx="1183.4" cy="897" r="5.4"/>
<circle cx="1177.7" cy="897" r="5.4"/>
<circle cx="1186.8" cy="897" r="5.4"/>
<circle cx="1181.3" cy="894.7" r="5.4"/>
<circle cx="1175.1" cy="894.7" r="5.4"/>
<circle cx="1185.2" cy="894.7" r="5.4"/>
<circle cx="1178.9" cy="894.7" r="5.4"/>
<circle cx="1171.9" cy="892.3" r="5.4"/>
<circle cx="1183.1" cy="892.3" r="5.4"/>
<circle cx="1176.2" cy="892.3" r="5.4"/>
<circle cx="1187.3" cy="892.3" r="5.4"/>
<circle cx="1180.4" cy="892.3" r="5.4"/>
<circle cx="1172.8" cy="889.7" r="5.4"/>
<circle cx="1185.2" cy="889.7" r="5.4"/>
<circle cx="1177.5" cy="889.7" r="5.4"/>
<circle cx="1189.9" cy="889.7" r="5.4"/>
<circle cx="1182.2" cy="889.7" r="5.4"/>
<circle cx="1174.7" cy="887" r="5.4"/>
<circle cx="1186.8" cy="887" r="5.4"/>
<circle cx="1179.3" cy="887" r="5.4"/>
<circle cx="1171.9" cy="887" r="5.4"/>
<circle cx="1184" cy="887" r="5.4"/>
<circle cx="1176.6" cy="884.7" r="5.4"/>
<circle cx="1188.4" cy="884.7" r="5.4"/>
<circle cx="1181.1" cy="884.7" r="5.4"/>
<circle cx="1173.8" cy="884.7" r="5.4"/>
<circle cx="1185.6" cy="884.7" r="5.4"/>
<circle cx="1178.3" cy="882.4" r="5.4"/>
<circle cx="1171.2" cy="882.4" r="5.4"/>
<circle cx="1182.8" cy="882.4" r="5.4"/>
<circle cx="1175.6" cy="882.4" r="5.4"/>
<circle cx="1187" cy="879.8" r="5.4"/>
<circle cx="1180" cy="879.8" r="5.4"/>
<circle cx="1173" cy="879.8" r="5.4"/>
<circle cx="1184.3" cy="879.8" r="5.4"/>
<circle cx="1177.6" cy="877.1" r="5.4"/>
<circle cx="1188" cy="877.1" r="5.4"/>
<circle cx="1181.6" cy="877.1" r="5.4"/>
<circle cx="1176" cy="874.8" r="5.4"/>
<circle cx="1184.7" cy="874.8" r="5.4"/>
<circle cx="1179.3" cy="874.8" r="5.4"/>
<circle cx="1175.2" cy="872.5" r="5.4"/>
<circle cx="1181.6" cy="869.8" r="5.4"/>
<circle cx="1179.9" cy="866.5" r="5.4"/>
<circle cx="1181" cy="862.5" r="5.4"/>
<circle cx="1180.3" cy="856.6" r="5.4"/>
</g>
<g fill="#5858f0" stroke="#1c1c8c" stroke-width="1">
<circle cx="1228.7" cy="873.1" r="5.4"/>
<circle cx="1224.6" cy="871.5" r="5.4"/>
<circle cx="1233.5" cy="869.8" r="5.4"/>
<circle cx="1227.4" cy="868.2" r="5.4"/>
<circle cx="1221.2" cy="866.5" r="5.4"/>
<circle cx="1231.1" cy="863.2" r="5.4"/>
<circle cx="1225" cy="861.5" r="5.4"/>
<circle cx="1234.9" cy="859.9" r="5.4"/>
<circle cx="1228.8" cy="856.6" r="5.4"/>
<circle cx="1222.7" cy="854.9" r="5.4"/>
<circle cx="1232.6" cy="853.3" r="5.4"/>
<circle cx="1226.5" cy="849.9" r="5.4"/>
<circle cx="1221.3" cy="848.3" r="5.4"/>
<circle cx="1229.6" cy="846.6" r="5.4"/>
<circle cx="1225" cy="843.3" r="5.4"/>
<circle cx="1232.5" cy="841.7" r="5.4"/>
<circle cx="1227.9" cy="840" r="5.4"/>
<circle cx="1223.3" cy="836.7" r="5.4"/>
<circle cx="1230.7" cy="835" r="5.4"/>
<circle cx="1226.1" cy="833.4" r="5.4"/>
<circle cx="1233.5" cy="830.1" r="5.4"/>
<circle cx="1229" cy="826.7" r="5.4"/>
<circle cx="1224.4" cy="825.1" r="5.4"/>
<circle cx="1231.8" cy="823.4" r="5.4"/>
<circle cx="1227.2" cy="820.1" r="5.4"/>
<circle cx="1223.5" cy="818.5" r="5.4"/>
<circle cx="1229.3" cy="816.8" r="5.4"/>
<circle cx="1226.2" cy="813.5" r="5.4"/>
<circle cx="1231.2" cy="811.8" r="5.4"/>
<circle cx="1228.1" cy="810.2" r="5.4"/>
<circle cx="1225.1" cy="806.9" r="5.4"/>
<circle cx="1230" cy="803.6" r="5.4"/>
<circle cx="1226.5" cy="801.9" r="5.4"/>
<circle cx="1220" cy="800.2" r="5.4"/>
<circle cx="1230.4" cy="798.6" r="5.4"/>
<circle cx="1222.8" cy="796.9" r="5.4"/>
<circle cx="1235.1" cy="796.9" r="5.4"/>
<circle cx="1227.5" cy="795.3" r="5.4"/>
<circle cx="1219.9" cy="795.3" r="5.4"/>
<circle cx="1232.2" cy="793.6" r="5.4"/>
<circle cx="1224.6" cy="793.6" r="5.4"/>
<circle cx="1236.9" cy="790.3" r="5.4"/>
<circle cx="1229.3" cy="788.6" r="5.4"/>
<circle cx="1227.8" cy="782" r="5.4"/>
<circle cx="1227.8" cy="772.1" r="5.4"/>
<circle cx="1227.5" cy="754.5" r="5.4"/>
<circle cx="1225.9" cy="748.9" r="5.4"/>
<circle cx="1228.4" cy="743.9" r="5.4"/>
<circle cx="1227.2" cy="734" r="5.4"/>
<circle cx="1227.8" cy="566.7" r="5.4"/>
</g>
<g fill="#fb0606" stroke="#7a0000" stroke-width="1">
<circle cx="1275.6" cy="888" r="5.4"/>
<circle cx="1273.9" cy="884.7" r="5.4"/>
<circle cx="1276.8" cy="881.4" r="5.4"/>
<circle cx="1275" cy="878.1" r="5.4"/>
<circle cx="1272.7" cy="874.8" r="5.4"/>
<circle cx="1276.3" cy="874.8" r="5.4"/>
<circle cx="1273.7" cy="871.5" r="5.4"/>
<circle cx="1280.4" cy="868.2" r="5.4"/>
<circle cx="1275.8" cy="868.2" r="5.4"/>
<circle cx="1270.6" cy="864.8" r="5.4"/>
<circle cx="1279.3" cy="861.5" r="5.4"/>
<circle cx="1273.9" cy="861.5" r="5.4"/>
<circle cx="1268.6" cy="858.2" r="5.4"/>
<circle cx="1277.2" cy="858.2" r="5.4"/>
<circle cx="1271.9" cy="854.9" r="5.4"/>
<circle cx="1280.5" cy="854.9" r="5.4"/>
<circle cx="1275.2" cy="851.6" r="5.4"/>
<circle cx="1269.8" cy="851.6" r="5.4"/>
<circle cx="1278.5" cy="848.3" r="5.4"/>
<circle cx="1273.1" cy="848.3" r="5.4"/>
<circle cx="1283.2" cy="845" r="5.4"/>
<circle cx="1276.7" cy="845" r="5.4"/>
<circle cx="1269.4" cy="841.7" r="5.4"/>
<circle cx="1281.8" cy="841.7" r="5.4"/>
<circle cx="1274.1" cy="841.7" r="5.4"/>
<circle cx="1266.5" cy="839.3" r="5.4"/>
<circle cx="1278.8" cy="839.3" r="5.4"/>
<circle cx="1271.2" cy="839.3" r="5.4"/>
<circle cx="1283.6" cy="839.3" r="5.4"/>
<circle cx="1275.9" cy="836.7" r="5.4"/>
<circle cx="1268.3" cy="836.7" r="5.4"/>
<circle cx="1280.6" cy="836.7" r="5.4"/>
<circle cx="1273" cy="836.7" r="5.4"/>
<circle cx="1265.4" cy="836.7" r="5.4"/>
<circle cx="1277.7" cy="834.4" r="5.4"/>
<circle cx="1270.1" cy="834.4" r="5.4"/>
<circle cx="1282.4" cy="834.4" r="5.4"/>
<circle cx="1274.8" cy="834.4" r="5.4"/>
<circle cx="1267.2" cy="834.4" r="5.4"/>
<circle cx="1279.5" cy="831.7" r="5.4"/>
<circle cx="1271.9" cy="831.7" r="5.4"/>
<circle cx="1284.2" cy="831.7" r="5.4"/>
<circle cx="1276.6" cy="831.7" r="5.4"/>
<circle cx="1269" cy="831.7" r="5.4"/>
<circle cx="1281.3" cy="829.1" r="5.4"/>
<circle cx="1273.7" cy="829.1" r="5.4"/>
<circle cx="1266.1" cy="829.1" r="5.4"/>
<circle cx="1278.4" cy="829.1" r="5.4"/>
<circle cx="1270.8" cy="826.7" r="5.4"/>
<circle cx="1283.1" cy="826.7" r="5.4"/>
<circle cx="1275.5" cy="826.7" r="5.4"/>
<circle cx="1267.9" cy="823.4" r="5.4"/>
<circle cx="1279.2" cy="820.1" r="5.4"/>
<circle cx="1274.1" cy="816.8" r="5.4"/>
<circle cx="1279" cy="813.5" r="5.4"/>
<circle cx="1276" cy="810.2" r="5.4"/>
<circle cx="1272.9" cy="806.9" r="5.4"/>
<circle cx="1277.9" cy="803.6" r="5.4"/>
<circle cx="1274.8" cy="798.6" r="5.4"/>
<circle cx="1271.8" cy="793.6" r="5.4"/>
<circle cx="1276.7" cy="789.3" r="5.4"/>
<circle cx="1273.6" cy="787" r="5.4"/>
<circle cx="1275.1" cy="762.1" r="5.4"/>
</g>
<g fill="#666666" stroke="#333333" stroke-width="1">
<circle cx="1370.2" cy="893" r="5.4"/>
<circle cx="1369" cy="893" r="5.4"/>
<circle cx="1372.7" cy="889.7" r="5.4"/>
<circle cx="1369.6" cy="889.7" r="5.4"/>
<circle cx="1366.4" cy="889.7" r="5.4"/>
<circle cx="1372.6" cy="886.4" r="5.4"/>
<circle cx="1367.5" cy="886.4" r="5.4"/>
<circle cx="1375.8" cy="886.4" r="5.4"/>
<circle cx="1370.6" cy="886.4" r="5.4"/>
<circle cx="1364.6" cy="883.1" r="5.4"/>
<circle cx="1374.7" cy="883.1" r="5.4"/>
<circle cx="1368.4" cy="883.1" r="5.4"/>
<circle cx="1362.2" cy="883.1" r="5.4"/>
<circle cx="1372.4" cy="879.8" r="5.4"/>
<circle cx="1365.9" cy="879.8" r="5.4"/>
<circle cx="1376.5" cy="879.8" r="5.4"/>
<circle cx="1369.9" cy="879.8" r="5.4"/>
<circle cx="1363" cy="876.4" r="5.4"/>
<circle cx="1374.2" cy="876.4" r="5.4"/>
<circle cx="1367.3" cy="876.4" r="5.4"/>
<circle cx="1378.4" cy="876.4" r="5.4"/>
<circle cx="1371.6" cy="873.1" r="5.4"/>
<circle cx="1364.4" cy="873.1" r="5.4"/>
<circle cx="1376.1" cy="873.1" r="5.4"/>
<circle cx="1368.9" cy="873.1" r="5.4"/>
<circle cx="1361.7" cy="873.1" r="5.4"/>
<circle cx="1373.5" cy="869.8" r="5.4"/>
<circle cx="1366" cy="869.8" r="5.4"/>
<circle cx="1378.1" cy="869.8" r="5.4"/>
<circle cx="1370.6" cy="869.8" r="5.4"/>
<circle cx="1363.1" cy="869.8" r="5.4"/>
<circle cx="1375.3" cy="866.5" r="5.4"/>
<circle cx="1367.7" cy="866.5" r="5.4"/>
<circle cx="1360.1" cy="866.5" r="5.4"/>
<circle cx="1372.4" cy="866.5" r="5.4"/>
<circle cx="1364.8" cy="866.5" r="5.4"/>
<circle cx="1377" cy="863.2" r="5.4"/>
<circle cx="1369.5" cy="863.2" r="5.4"/>
<circle cx="1362.1" cy="863.2" r="5.4"/>
<circle cx="1374.1" cy="863.2" r="5.4"/>
<circle cx="1366.7" cy="863.2" r="5.4"/>
<circle cx="1377.5" cy="859.9" r="5.4"/>
<circle cx="1371.1" cy="859.9" r="5.4"/>
<circle cx="1364.6" cy="859.9" r="5.4"/>
<circle cx="1375" cy="859.9" r="5.4"/>
<circle cx="1368.8" cy="856.6" r="5.4"/>
<circle cx="1363.4" cy="856.6" r="5.4"/>
<circle cx="1372.2" cy="856.6" r="5.4"/>
<circle cx="1367.3" cy="853.3" r="5.4"/>
<circle cx="1374.5" cy="853.3" r="5.4"/>
<circle cx="1369.9" cy="848.3" r="5.4"/>
<circle cx="1368.7" cy="845" r="5.4"/>
<circle cx="1370.1" cy="840" r="5.4"/>
<circle cx="1369.7" cy="833.4" r="5.4"/>
<circle cx="1370.2" cy="823.4" r="5.4"/>
<circle cx="1369.9" cy="811.8" r="5.4"/>
</g>
<g fill="#5858f0" stroke="#1c1c8c" stroke-width="1">
<circle cx="1417.3" cy="863.2" r="5.4"/>
<circle cx="1416" cy="856.6" r="5.4"/>
<circle cx="1419.9" cy="853.3" r="5.4"/>
<circle cx="1417" cy="849.9" r="5.4"/>
<circle cx="1413.3" cy="849.9" r="5.4"/>
<circle cx="1419.8" cy="846.6" r="5.4"/>
<circle cx="1415.2" cy="843.3" r="5.4"/>
<circle cx="1422.6" cy="843.3" r="5.4"/>
<circle cx="1418" cy="840" r="5.4"/>
<circle cx="1413.9" cy="836.7" r="5.4"/>
<circle cx="1420.5" cy="836.7" r="5.4"/>
<circle cx="1416.5" cy="833.4" r="5.4"/>
<circle cx="1413.6" cy="830.1" r="5.4"/>
<circle cx="1418.5" cy="830.1" r="5.4"/>
<circle cx="1414.1" cy="826.7" r="5.4"/>
<circle cx="1422.7" cy="826.7" r="5.4"/>
<circle cx="1417.4" cy="823.4" r="5.4"/>
<circle cx="1409.8" cy="823.4" r="5.4"/>
<circle cx="1422.2" cy="820.1" r="5.4"/>
<circle cx="1414.5" cy="820.1" r="5.4"/>
<circle cx="1426.9" cy="820.1" r="5.4"/>
<circle cx="1419.2" cy="816.8" r="5.4"/>
<circle cx="1411.6" cy="816.8" r="5.4"/>
<circle cx="1424" cy="816.8" r="5.4"/>
<circle cx="1416.3" cy="813.5" r="5.4"/>
<circle cx="1408.7" cy="813.5" r="5.4"/>
<circle cx="1421" cy="813.5" r="5.4"/>
<circle cx="1413.4" cy="813.5" r="5.4"/>
<circle cx="1425.8" cy="810.2" r="5.4"/>
<circle cx="1418.1" cy="810.2" r="5.4"/>
<circle cx="1410.5" cy="810.2" r="5.4"/>
<circle cx="1422.8" cy="810.2" r="5.4"/>
<circle cx="1415.2" cy="806.9" r="5.4"/>
<circle cx="1407.6" cy="806.9" r="5.4"/>
<circle cx="1419.9" cy="806.9" r="5.4"/>
<circle cx="1412.3" cy="806.9" r="5.4"/>
<circle cx="1424.6" cy="803.6" r="5.4"/>
<circle cx="1417" cy="803.6" r="5.4"/>
<circle cx="1409.4" cy="803.6" r="5.4"/>
<circle cx="1421.7" cy="803.6" r="5.4"/>
<circle cx="1414.1" cy="800.2" r="5.4"/>
<circle cx="1426.4" cy="800.2" r="5.4"/>
<circle cx="1418.8" cy="800.2" r="5.4"/>
<circle cx="1411.2" cy="800.2" r="5.4"/>
<circle cx="1423.5" cy="796.9" r="5.4"/>
<circle cx="1415.9" cy="796.9" r="5.4"/>
<circle cx="1408.3" cy="796.9" r="5.4"/>
<circle cx="1420.6" cy="793.6" r="5.4"/>
<circle cx="1413" cy="793.6" r="5.4"/>
<circle cx="1425.3" cy="793.6" r="5.4"/>
<circle cx="1417.6" cy="790.3" r="5.4"/>
<circle cx="1411.9" cy="790.3" r="5.4"/>
<circle cx="1419.9" cy="787" r="5.4"/>
<circle cx="1416" cy="787" r="5.4"/>
<circle cx="1422.2" cy="783.7" r="5.4"/>
<circle cx="1418.4" cy="780.4" r="5.4"/>
<circle cx="1414.6" cy="777.1" r="5.4"/>
<circle cx="1420.8" cy="772.1" r="5.4"/>
<circle cx="1417" cy="767.1" r="5.4"/>
<circle cx="1414.4" cy="763.8" r="5.4"/>
<circle cx="1418.6" cy="760.5" r="5.4"/>
<circle cx="1416.1" cy="760.5" r="5.4"/>
<circle cx="1418.9" cy="743.9" r="5.4"/>
<circle cx="1417.5" cy="737.3" r="5.4"/>
<circle cx="1416.2" cy="727.4" r="5.4"/>
<circle cx="1418.2" cy="720.7" r="5.4"/>
<circle cx="1417.3" cy="695.9" r="5.4"/>
<circle cx="1417.3" cy="677.7" r="5.4"/>
<circle cx="1417.3" cy="601.5" r="5.4"/>
<circle cx="1417.3" cy="571.6" r="5.4"/>
</g>
<g fill="#fb0606" stroke="#7a0000" stroke-width="1">
<circle cx="1465.2" cy="881.4" r="5.4"/>
<circle cx="1463.5" cy="879.8" r="5.4"/>
<circle cx="1467.6" cy="876.4" r="5.4"/>
<circle cx="1464.4" cy="873.1" r="5.4"/>
<circle cx="1459.1" cy="873.1" r="5.4"/>
<circle cx="1469" cy="869.8" r="5.4"/>
<circle cx="1461.3" cy="869.8" r="5.4"/>
<circle cx="1473.7" cy="866.5" r="5.4"/>
<circle cx="1466" cy="866.5" r="5.4"/>
<circle cx="1458.4" cy="866.5" r="5.4"/>
<circle cx="1470.8" cy="863.2" r="5.4"/>
<circle cx="1463.1" cy="863.2" r="5.4"/>
<circle cx="1455.5" cy="863.2" r="5.4"/>
<circle cx="1467.8" cy="863.2" r="5.4"/>
<circle cx="1460.2" cy="859.9" r="5.4"/>
<circle cx="1472.6" cy="859.9" r="5.4"/>
<circle cx="1464.9" cy="859.9" r="5.4"/>
<circle cx="1457.3" cy="859.9" r="5.4"/>
<circle cx="1469.7" cy="856.6" r="5.4"/>
<circle cx="1462" cy="856.6" r="5.4"/>
<circle cx="1474.4" cy="856.6" r="5.4"/>
<circle cx="1466.7" cy="856.6" r="5.4"/>
<circle cx="1459.1" cy="853.3" r="5.4"/>
<circle cx="1471.5" cy="853.3" r="5.4"/>
<circle cx="1463.8" cy="853.3" r="5.4"/>
<circle cx="1456.2" cy="853.3" r="5.4"/>
<circle cx="1468.5" cy="849.9" r="5.4"/>
<circle cx="1460.9" cy="849.9" r="5.4"/>
<circle cx="1473.3" cy="849.9" r="5.4"/>
<circle cx="1465.6" cy="849.9" r="5.4"/>
<circle cx="1458" cy="849.9" r="5.4"/>
<circle cx="1470.3" cy="846.6" r="5.4"/>
<circle cx="1462.7" cy="846.6" r="5.4"/>
<circle cx="1455.1" cy="846.6" r="5.4"/>
<circle cx="1467.4" cy="846.6" r="5.4"/>
<circle cx="1459.8" cy="846.6" r="5.4"/>
<circle cx="1472.1" cy="843.3" r="5.4"/>
<circle cx="1464.5" cy="843.3" r="5.4"/>
<circle cx="1456.9" cy="843.3" r="5.4"/>
<circle cx="1469.2" cy="843.3" r="5.4"/>
<circle cx="1461.6" cy="843.3" r="5.4"/>
<circle cx="1473.9" cy="840" r="5.4"/>
<circle cx="1466.3" cy="840" r="5.4"/>
<circle cx="1458.7" cy="840" r="5.4"/>
<circle cx="1471" cy="840" r="5.4"/>
<circle cx="1463.4" cy="840" r="5.4"/>
<circle cx="1455.8" cy="836.7" r="5.4"/>
<circle cx="1468.1" cy="836.7" r="5.4"/>
<circle cx="1460.5" cy="836.7" r="5.4"/>
<circle cx="1472.8" cy="836.7" r="5.4"/>
<circle cx="1465.2" cy="836.7" r="5.4"/>
<circle cx="1457.6" cy="833.4" r="5.4"/>
<circle cx="1469.9" cy="833.4" r="5.4"/>
<circle cx="1462.3" cy="833.4" r="5.4"/>
<circle cx="1474.6" cy="833.4" r="5.4"/>
<circle cx="1467" cy="833.4" r="5.4"/>
<circle cx="1459.4" cy="830.1" r="5.4"/>
<circle cx="1471.7" cy="830.1" r="5.4"/>
<circle cx="1464.1" cy="830.1" r="5.4"/>
<circle cx="1456.4" cy="830.1" r="5.4"/>
<circle cx="1467.6" cy="826.7" r="5.4"/>
<circle cx="1462.3" cy="826.7" r="5.4"/>
<circle cx="1470.9" cy="826.7" r="5.4"/>
<circle cx="1465.2" cy="823.4" r="5.4"/>
<circle cx="1462.2" cy="823.4" r="5.4"/>
<circle cx="1467.1" cy="823.4" r="5.4"/>
<circle cx="1464.1" cy="820.1" r="5.4"/>
<circle cx="1461" cy="820.1" r="5.4"/>
<circle cx="1466" cy="816.8" r="5.4"/>
<circle cx="1462.9" cy="816.8" r="5.4"/>
<circle cx="1467.8" cy="813.5" r="5.4"/>
<circle cx="1464.8" cy="813.5" r="5.4"/>
<circle cx="1461.7" cy="810.2" r="5.4"/>
<circle cx="1466.7" cy="806.9" r="5.4"/>
<circle cx="1463.6" cy="801.9" r="5.4"/>
<circle cx="1468.6" cy="796.9" r="5.4"/>
<circle cx="1465.5" cy="793.6" r="5.4"/>
<circle cx="1461.9" cy="773.7" r="5.4"/>
<circle cx="1468" cy="770.4" r="5.4"/>
<circle cx="1464.2" cy="770.4" r="5.4"/>
<circle cx="1460.4" cy="767.1" r="5.4"/>
<circle cx="1466.6" cy="762.1" r="5.4"/>
<circle cx="1462.8" cy="762.1" r="5.4"/>
<circle cx="1468.9" cy="757.2" r="5.4"/>
<circle cx="1465.1" cy="750.6" r="5.4"/>
<circle cx="1464.8" cy="730.7" r="5.4"/>
<circle cx="1464.8" cy="704.2" r="5.4"/>
<circle cx="1464.8" cy="697.5" r="5.4"/>
<circle cx="1464.8" cy="573.3" r="5.4"/>
</g>
<line x1="1165" y1="888" x2="1196.3" y2="888" stroke="#000" stroke-width="3.4"/>
<line x1="1212.4" y1="819" x2="1243.5" y2="819" stroke="#000" stroke-width="3.4"/>
<line x1="1259.5" y1="837" x2="1291" y2="837" stroke="#000" stroke-width="3.4"/>
<line x1="1354.4" y1="868.8" x2="1385.8" y2="868.8" stroke="#000" stroke-width="3.4"/>
<line x1="1401.5" y1="800.5" x2="1433" y2="800.5" stroke="#000" stroke-width="3.4"/>
<line x1="1449.6" y1="833.5" x2="1480.7" y2="833.5" stroke="#000" stroke-width="3.4"/>
<g stroke="#000" stroke-width="3.2" fill="none">
<line x1="1149.2" y1="564.6" x2="1149.2" y2="917.8000000000001"/>
<line x1="1134.5" y1="916.2" x2="1500" y2="916.2"/>
<line x1="1134.5" y1="849.9" x2="1149.2" y2="849.9"/>
<line x1="1134.5" y1="783.7" x2="1149.2" y2="783.7"/>
<line x1="1134.5" y1="717.4" x2="1149.2" y2="717.4"/>
<line x1="1134.5" y1="651.2" x2="1149.2" y2="651.2"/>
<line x1="1134.5" y1="584.9" x2="1149.2" y2="584.9"/>
<line x1="1180.3" y1="916.2" x2="1180.3" y2="931"/>
<line x1="1227.8" y1="916.2" x2="1227.8" y2="931"/>
<line x1="1275.1" y1="916.2" x2="1275.1" y2="931"/>
<line x1="1322.3" y1="916.2" x2="1322.3" y2="931"/>
<line x1="1369.8" y1="916.2" x2="1369.8" y2="931"/>
<line x1="1417.3" y1="916.2" x2="1417.3" y2="931"/>
<line x1="1464.8" y1="916.2" x2="1464.8" y2="931"/>
</g>
<g font-family='"Liberation Sans", sans-serif' font-weight="bold" font-size="26" fill="#000" text-anchor="end">
<text x="1128" y="925.5">0</text>
<text x="1128" y="859.2">20</text>
<text x="1128" y="793">40</text>
<text x="1128" y="726.7">60</text>
<text x="1128" y="660.5">80</text>
<text x="1128" y="594.2">100</text>
</g>
<text transform="translate(1071,741.7) rotate(-90)" text-anchor="middle" font-family='"Liberation Sans", sans-serif' font-size="30" fill="#000">Comet length (&#181;m)</text>
<g font-family='"Liberation Sans", sans-serif' font-size="26" fill="#000" text-anchor="end">
<text transform="translate(1188.3,954.5) rotate(-45)">DMSO</text>
<text transform="translate(1235.8,954.5) rotate(-45)">MMC</text>
<text transform="translate(1283.1,954.5) rotate(-45)">val</text>
<text transform="translate(1377.8,954.5) rotate(-45)">DMSO</text>
<text transform="translate(1425.3,954.5) rotate(-45)">MMC</text>
<text transform="translate(1472.8,954.5) rotate(-45)">val</text>
</g>
<line x1="1149.8" y1="1014.5" x2="1293.2" y2="1014.5" stroke="#000" stroke-width="5.4"/>
<line x1="1344.8" y1="1014.5" x2="1488.1" y2="1014.5" stroke="#000" stroke-width="5.4"/>
<text x="1215.6" y="1044" text-anchor="middle" font-family='"Liberation Sans", sans-serif' font-style="italic" font-size="29.5" fill="#000">wt</text>
<text x="1417.5" y="1046.6" text-anchor="middle" font-family='"Liberation Sans", sans-serif' font-style="italic" font-size="29.5" fill="#000">&#916;recA</text>
<text x="1311" y="529.3" text-anchor="middle" font-family='"Liberation Sans", sans-serif' font-style="italic" font-size="39.2" fill="#231f20">comet length</text>
<text x="1037.8" y="530.3" font-family='"Liberation Sans", sans-serif' font-weight="bold" font-size="56" fill="#231f20">d</text>
</svg></body></html>
